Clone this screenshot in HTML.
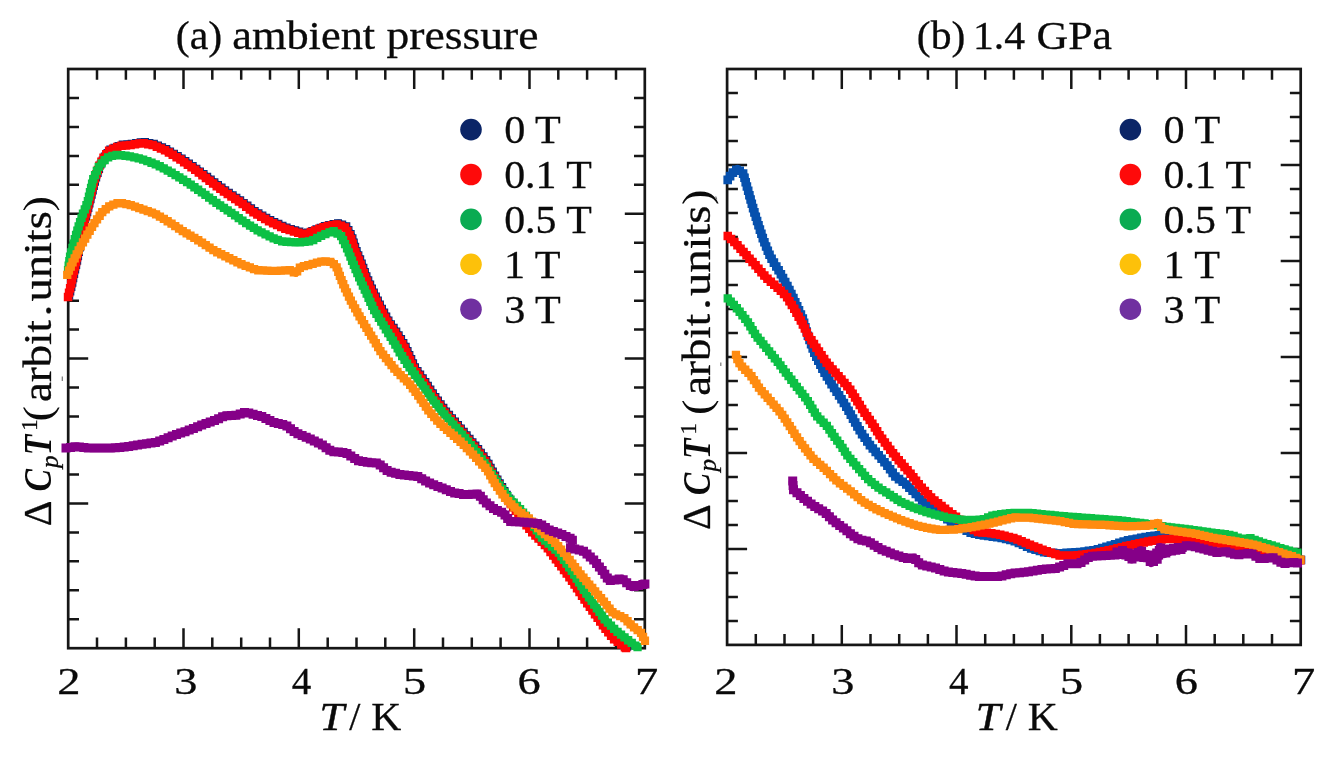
<!DOCTYPE html>
<html lang="en"><head><meta charset="utf-8"><title>Specific heat plots</title>
<style>
html,body{margin:0;padding:0;background:#fff;}
body{width:1337px;height:762px;overflow:hidden;}
svg{display:block;filter:blur(0.55px);}
svg text{font-family:"Liberation Serif","DejaVu Serif",serif;fill:#0a0a0a;}
svg text.b{stroke:#0a0a0a;stroke-width:0.3px;}
svg text.bb{stroke:#0a0a0a;stroke-width:0.5px;}
</style></head><body>
<svg width="1337" height="762" viewBox="0 0 1337 762">
<rect width="1337" height="762" fill="#ffffff"/>
<!-- left panel -->
<rect x="68.2" y="69.0" width="576.6" height="579.2" fill="none" stroke="#161616" stroke-width="2.7"/>
<path d="M97.0 69.0v10.8M97.0 648.2v-10.8M125.9 69.0v10.8M125.9 648.2v-10.8M154.7 69.0v10.8M154.7 648.2v-10.8M183.5 69.0v20.0M183.5 648.2v-20.0M212.3 69.0v10.8M212.3 648.2v-10.8M241.2 69.0v10.8M241.2 648.2v-10.8M270.0 69.0v10.8M270.0 648.2v-10.8M298.8 69.0v20.0M298.8 648.2v-20.0M327.7 69.0v10.8M327.7 648.2v-10.8M356.5 69.0v10.8M356.5 648.2v-10.8M385.3 69.0v10.8M385.3 648.2v-10.8M414.2 69.0v20.0M414.2 648.2v-20.0M443.0 69.0v10.8M443.0 648.2v-10.8M471.8 69.0v10.8M471.8 648.2v-10.8M500.6 69.0v10.8M500.6 648.2v-10.8M529.5 69.0v20.0M529.5 648.2v-20.0M558.3 69.0v10.8M558.3 648.2v-10.8M587.1 69.0v10.8M587.1 648.2v-10.8M616.0 69.0v10.8M616.0 648.2v-10.8M68.2 98.0h10.8M644.8 98.0h-10.8M68.2 126.9h10.8M644.8 126.9h-10.8M68.2 155.9h10.8M644.8 155.9h-10.8M68.2 184.8h10.8M644.8 184.8h-10.8M68.2 213.8h20.0M644.8 213.8h-20.0M68.2 242.8h10.8M644.8 242.8h-10.8M68.2 271.7h10.8M644.8 271.7h-10.8M68.2 300.7h10.8M644.8 300.7h-10.8M68.2 329.6h10.8M644.8 329.6h-10.8M68.2 358.6h20.0M644.8 358.6h-20.0M68.2 387.6h10.8M644.8 387.6h-10.8M68.2 416.5h10.8M644.8 416.5h-10.8M68.2 445.5h10.8M644.8 445.5h-10.8M68.2 474.4h10.8M644.8 474.4h-10.8M68.2 503.4h20.0M644.8 503.4h-20.0M68.2 532.4h10.8M644.8 532.4h-10.8M68.2 561.3h10.8M644.8 561.3h-10.8M68.2 590.3h10.8M644.8 590.3h-10.8M68.2 619.2h10.8M644.8 619.2h-10.8" stroke="#161616" stroke-width="2.5" fill="none"/>
<g>
<polyline points="69.2,295.8 71.7,285.8 74.2,273.8 77.2,260.8 80.2,245.8 83.2,228.8 87.2,212.8 91.2,196.8 95.7,178.8 100.7,164.3 105.2,155.8 110.6,149.3 121.0,144.8 131.5,143.8 143.5,141.8 154.2,143.8 166.2,149.0 181.1,158.0 196.1,168.4 211.0,179.7 226.0,190.9 241.0,200.8 255.9,211.8 270.9,220.3 285.8,227.3 300.8,232.0 305.3,233.5 315.8,229.5 326.9,225.3 338.9,223.1 346.4,226.3 351.7,235.8 356.2,249.8 361.2,261.8 366.7,276.8 374.2,293.2 381.7,308.2 389.2,321.6 396.7,332.1 405.5,346.3 414.7,366.8 426.2,383.2 436.2,398.2 446.2,411.6 458.2,425.1 468.2,437.1 478.2,449.0 487.2,461.0 491.2,468.8 499.2,482.2 508.2,497.1 517.2,509.8 525.2,520.8 532.7,530.3 547.4,545.0 560.0,561.8 572.6,578.6 585.2,597.5 595.7,612.2 606.2,626.9 614.6,637.4 627.2,646.8" fill="none" stroke="#0a2a78" stroke-width="7.2" stroke-linejoin="round"/><path d="M65.2 291.8h8v8h-8zM66.3 287.4h8v8h-8zM67.4 283.1h8v8h-8zM68.4 278.7h8v8h-8zM69.3 274.3h8v8h-8zM70.2 269.9h8v8h-8zM71.2 265.5h8v8h-8zM72.2 261.1h8v8h-8zM73.2 256.7h8v8h-8zM74.1 252.3h8v8h-8zM75.0 247.9h8v8h-8zM75.9 243.5h8v8h-8zM76.7 239.0h8v8h-8zM77.5 234.6h8v8h-8zM78.2 230.2h8v8h-8zM79.0 225.8h8v8h-8zM80.1 221.4h8v8h-8zM81.1 217.0h8v8h-8zM82.2 212.6h8v8h-8zM83.3 208.3h8v8h-8zM84.4 203.9h8v8h-8zM85.5 199.5h8v8h-8zM86.6 195.2h8v8h-8zM87.7 190.8h8v8h-8zM88.8 186.4h8v8h-8zM89.9 182.1h8v8h-8zM91.0 177.7h8v8h-8zM92.2 173.4h8v8h-8zM93.7 169.1h8v8h-8zM95.1 164.9h8v8h-8zM96.6 160.6h8v8h-8zM98.6 156.6h8v8h-8zM100.8 152.6h8v8h-8zM103.5 149.1h8v8h-8zM106.3 145.6h8v8h-8zM110.4 143.7h8v8h-8zM114.5 141.9h8v8h-8zM118.7 140.6h8v8h-8zM123.2 140.2h8v8h-8zM127.7 139.8h8v8h-8zM132.1 139.0h8v8h-8zM136.6 138.3h8v8h-8zM141.0 138.1h8v8h-8zM145.4 138.9h8v8h-8zM149.9 139.7h8v8h-8zM154.0 141.5h8v8h-8zM158.1 143.2h8v8h-8zM162.3 145.0h8v8h-8zM166.1 147.4h8v8h-8zM170.0 149.7h8v8h-8zM173.8 152.0h8v8h-8zM177.7 154.4h8v8h-8zM181.4 156.9h8v8h-8zM185.0 159.5h8v8h-8zM188.7 162.1h8v8h-8zM192.4 164.7h8v8h-8zM196.0 167.4h8v8h-8zM199.6 170.1h8v8h-8zM203.2 172.8h8v8h-8zM206.8 175.5h8v8h-8zM210.4 178.2h8v8h-8zM214.0 180.9h8v8h-8zM217.6 183.6h8v8h-8zM221.2 186.3h8v8h-8zM224.9 188.8h8v8h-8zM228.7 191.3h8v8h-8zM232.4 193.8h8v8h-8zM236.2 196.3h8v8h-8zM239.8 198.9h8v8h-8zM243.5 201.6h8v8h-8zM247.1 204.2h8v8h-8zM250.7 206.9h8v8h-8zM254.5 209.3h8v8h-8zM258.4 211.5h8v8h-8zM262.3 213.7h8v8h-8zM266.3 215.9h8v8h-8zM270.3 217.9h8v8h-8zM274.4 219.8h8v8h-8zM278.5 221.7h8v8h-8zM282.6 223.5h8v8h-8zM286.9 224.9h8v8h-8zM291.2 226.2h8v8h-8zM295.4 227.6h8v8h-8zM299.7 229.0h8v8h-8zM304.0 228.5h8v8h-8zM308.2 226.9h8v8h-8zM312.4 225.3h8v8h-8zM316.6 223.7h8v8h-8zM320.8 222.1h8v8h-8zM325.1 220.9h8v8h-8zM329.5 220.1h8v8h-8zM334.0 219.3h8v8h-8zM338.2 220.5h8v8h-8zM342.3 222.3h8v8h-8zM344.5 226.1h8v8h-8zM346.7 230.1h8v8h-8zM348.5 234.2h8v8h-8zM349.8 238.5h8v8h-8zM351.2 242.8h8v8h-8zM352.7 247.0h8v8h-8zM354.4 251.2h8v8h-8zM356.2 255.3h8v8h-8zM357.8 259.5h8v8h-8zM359.4 263.7h8v8h-8zM360.9 267.9h8v8h-8zM362.5 272.2h8v8h-8zM364.3 276.3h8v8h-8zM366.2 280.4h8v8h-8zM368.0 284.5h8v8h-8zM369.9 288.6h8v8h-8zM371.9 292.6h8v8h-8zM373.9 296.6h8v8h-8zM375.9 300.6h8v8h-8zM378.0 304.7h8v8h-8zM380.2 308.6h8v8h-8zM382.3 312.5h8v8h-8zM384.5 316.4h8v8h-8zM387.0 320.2h8v8h-8zM389.7 323.8h8v8h-8zM392.3 327.5h8v8h-8zM394.7 331.3h8v8h-8zM397.1 335.1h8v8h-8zM399.4 338.9h8v8h-8zM401.7 342.8h8v8h-8zM403.6 346.9h8v8h-8zM405.4 351.0h8v8h-8zM407.3 355.1h8v8h-8zM409.1 359.2h8v8h-8zM411.0 363.3h8v8h-8zM413.6 367.0h8v8h-8zM416.2 370.6h8v8h-8zM418.8 374.3h8v8h-8zM421.4 378.0h8v8h-8zM423.9 381.7h8v8h-8zM426.4 385.5h8v8h-8zM428.9 389.2h8v8h-8zM431.4 393.0h8v8h-8zM434.0 396.6h8v8h-8zM436.7 400.2h8v8h-8zM439.4 403.8h8v8h-8zM442.1 407.4h8v8h-8zM445.1 410.8h8v8h-8zM448.0 414.2h8v8h-8zM451.0 417.5h8v8h-8zM454.0 420.9h8v8h-8zM456.9 424.4h8v8h-8zM459.8 427.8h8v8h-8zM462.7 431.3h8v8h-8zM465.6 434.7h8v8h-8zM468.5 438.2h8v8h-8zM471.4 441.6h8v8h-8zM474.2 445.1h8v8h-8zM476.9 448.7h8v8h-8zM479.6 452.3h8v8h-8zM482.3 455.9h8v8h-8zM484.6 459.7h8v8h-8zM486.7 463.7h8v8h-8zM488.9 467.6h8v8h-8zM491.2 471.5h8v8h-8zM493.5 475.4h8v8h-8zM495.8 479.2h8v8h-8zM498.2 483.1h8v8h-8zM500.5 486.9h8v8h-8zM502.8 490.8h8v8h-8zM505.2 494.6h8v8h-8zM507.8 498.2h8v8h-8zM510.4 501.9h8v8h-8zM513.0 505.6h8v8h-8zM515.7 509.2h8v8h-8zM518.3 512.9h8v8h-8zM521.0 516.5h8v8h-8zM523.8 520.0h8v8h-8zM526.5 523.6h8v8h-8zM529.4 527.0h8v8h-8zM532.6 530.2h8v8h-8zM535.8 533.4h8v8h-8zM539.0 536.6h8v8h-8zM542.2 539.8h8v8h-8zM545.0 543.2h8v8h-8zM547.7 546.8h8v8h-8zM550.4 550.4h8v8h-8zM553.1 554.0h8v8h-8zM555.8 557.6h8v8h-8zM558.5 561.2h8v8h-8zM561.2 564.8h8v8h-8zM563.9 568.4h8v8h-8zM566.6 572.0h8v8h-8zM569.3 575.6h8v8h-8zM571.8 579.4h8v8h-8zM574.3 583.1h8v8h-8zM576.8 586.9h8v8h-8zM579.3 590.6h8v8h-8zM581.8 594.3h8v8h-8zM584.4 598.0h8v8h-8zM587.0 601.7h8v8h-8zM589.6 605.3h8v8h-8zM592.3 609.0h8v8h-8zM594.9 612.6h8v8h-8zM597.5 616.3h8v8h-8zM600.1 620.0h8v8h-8zM602.8 623.6h8v8h-8zM605.6 627.1h8v8h-8zM608.4 630.6h8v8h-8zM611.4 634.0h8v8h-8zM615.0 636.7h8v8h-8zM618.6 639.3h8v8h-8zM622.2 642.0h8v8h-8zM623.2 642.8h8v8h-8z" fill="#0a2a78" />
<polyline points="68.0,297.0 70.5,287.0 73.0,275.0 76.0,262.0 79.0,247.0 82.0,230.0 86.0,214.0 90.0,198.0 94.5,180.0 99.5,165.5 104.0,157.0 109.4,150.5 119.8,146.0 130.3,145.0 142.3,143.0 153.0,145.0 165.0,150.2 179.9,159.2 194.9,169.6 209.8,180.9 224.8,192.1 239.8,202.0 254.7,213.0 269.7,221.5 284.6,228.5 299.6,233.2 304.1,234.7 314.6,230.7 325.7,226.5 337.7,224.3 345.2,227.5 350.5,237.0 355.0,251.0 360.0,263.0 365.5,278.0 373.0,294.4 380.5,309.4 388.0,322.8 395.5,333.3 404.3,347.5 413.5,368.0 425.0,384.4 435.0,399.4 445.0,412.8 457.0,426.3 467.0,438.3 477.0,450.2 486.0,462.2 490.0,470.0 498.0,483.4 507.0,498.3 516.0,511.0 524.0,522.0 531.5,531.5 546.2,546.2 558.8,563.0 571.4,579.8 584.0,598.7 594.5,613.4 605.0,628.1 613.4,638.6 626.0,648.0" fill="none" stroke="#ff0505" stroke-width="7.65" stroke-linejoin="round"/><path d="M63.8 292.8h8.5v8.5h-8.5zM64.8 288.4h8.5v8.5h-8.5zM65.9 284.0h8.5v8.5h-8.5zM66.9 279.6h8.5v8.5h-8.5zM67.8 275.2h8.5v8.5h-8.5zM68.7 270.8h8.5v8.5h-8.5zM69.7 266.4h8.5v8.5h-8.5zM70.8 262.0h8.5v8.5h-8.5zM71.8 257.7h8.5v8.5h-8.5zM72.7 253.2h8.5v8.5h-8.5zM73.5 248.8h8.5v8.5h-8.5zM74.4 244.4h8.5v8.5h-8.5zM75.2 240.0h8.5v8.5h-8.5zM76.0 235.6h8.5v8.5h-8.5zM76.8 231.1h8.5v8.5h-8.5zM77.6 226.7h8.5v8.5h-8.5zM78.6 222.3h8.5v8.5h-8.5zM79.7 218.0h8.5v8.5h-8.5zM80.8 213.6h8.5v8.5h-8.5zM81.9 209.2h8.5v8.5h-8.5zM83.0 204.9h8.5v8.5h-8.5zM84.1 200.5h8.5v8.5h-8.5zM85.2 196.1h8.5v8.5h-8.5zM86.2 191.8h8.5v8.5h-8.5zM87.3 187.4h8.5v8.5h-8.5zM88.4 183.0h8.5v8.5h-8.5zM89.5 178.7h8.5v8.5h-8.5zM90.7 174.3h8.5v8.5h-8.5zM92.2 170.1h8.5v8.5h-8.5zM93.7 165.8h8.5v8.5h-8.5zM95.1 161.6h8.5v8.5h-8.5zM97.2 157.6h8.5v8.5h-8.5zM99.3 153.6h8.5v8.5h-8.5zM102.0 150.0h8.5v8.5h-8.5zM104.9 146.6h8.5v8.5h-8.5zM108.9 144.6h8.5v8.5h-8.5zM113.0 142.8h8.5v8.5h-8.5zM117.3 141.6h8.5v8.5h-8.5zM121.8 141.2h8.5v8.5h-8.5zM126.3 140.7h8.5v8.5h-8.5zM130.7 140.0h8.5v8.5h-8.5zM135.1 139.2h8.5v8.5h-8.5zM139.6 139.0h8.5v8.5h-8.5zM144.0 139.9h8.5v8.5h-8.5zM148.4 140.7h8.5v8.5h-8.5zM152.6 142.4h8.5v8.5h-8.5zM156.7 144.2h8.5v8.5h-8.5zM160.8 146.0h8.5v8.5h-8.5zM164.7 148.3h8.5v8.5h-8.5zM168.5 150.6h8.5v8.5h-8.5zM172.4 153.0h8.5v8.5h-8.5zM176.2 155.3h8.5v8.5h-8.5zM179.9 157.9h8.5v8.5h-8.5zM183.6 160.5h8.5v8.5h-8.5zM187.3 163.0h8.5v8.5h-8.5zM191.0 165.6h8.5v8.5h-8.5zM194.6 168.3h8.5v8.5h-8.5zM198.2 171.0h8.5v8.5h-8.5zM201.7 173.8h8.5v8.5h-8.5zM205.3 176.5h8.5v8.5h-8.5zM208.9 179.2h8.5v8.5h-8.5zM212.5 181.9h8.5v8.5h-8.5zM216.1 184.6h8.5v8.5h-8.5zM219.7 187.3h8.5v8.5h-8.5zM223.5 189.8h8.5v8.5h-8.5zM227.2 192.3h8.5v8.5h-8.5zM231.0 194.7h8.5v8.5h-8.5zM234.7 197.2h8.5v8.5h-8.5zM238.4 199.8h8.5v8.5h-8.5zM242.0 202.5h8.5v8.5h-8.5zM245.6 205.2h8.5v8.5h-8.5zM249.2 207.9h8.5v8.5h-8.5zM253.1 210.2h8.5v8.5h-8.5zM257.0 212.5h8.5v8.5h-8.5zM260.9 214.7h8.5v8.5h-8.5zM264.8 216.9h8.5v8.5h-8.5zM268.9 218.9h8.5v8.5h-8.5zM272.9 220.8h8.5v8.5h-8.5zM277.0 222.7h8.5v8.5h-8.5zM281.1 224.5h8.5v8.5h-8.5zM285.4 225.8h8.5v8.5h-8.5zM289.7 227.2h8.5v8.5h-8.5zM294.0 228.5h8.5v8.5h-8.5zM298.3 229.9h8.5v8.5h-8.5zM302.5 229.4h8.5v8.5h-8.5zM306.7 227.8h8.5v8.5h-8.5zM310.9 226.2h8.5v8.5h-8.5zM315.1 224.6h8.5v8.5h-8.5zM319.3 223.1h8.5v8.5h-8.5zM323.7 221.8h8.5v8.5h-8.5zM328.1 221.0h8.5v8.5h-8.5zM332.5 220.2h8.5v8.5h-8.5zM336.7 221.4h8.5v8.5h-8.5zM340.8 223.2h8.5v8.5h-8.5zM343.1 227.1h8.5v8.5h-8.5zM345.3 231.0h8.5v8.5h-8.5zM347.0 235.1h8.5v8.5h-8.5zM348.4 239.4h8.5v8.5h-8.5zM349.8 243.7h8.5v8.5h-8.5zM351.2 247.9h8.5v8.5h-8.5zM353.0 252.1h8.5v8.5h-8.5zM354.7 256.3h8.5v8.5h-8.5zM356.4 260.4h8.5v8.5h-8.5zM357.9 264.7h8.5v8.5h-8.5zM359.5 268.9h8.5v8.5h-8.5zM361.0 273.1h8.5v8.5h-8.5zM362.8 277.2h8.5v8.5h-8.5zM364.7 281.3h8.5v8.5h-8.5zM366.6 285.4h8.5v8.5h-8.5zM368.5 289.5h8.5v8.5h-8.5zM370.4 293.5h8.5v8.5h-8.5zM372.5 297.6h8.5v8.5h-8.5zM374.5 301.6h8.5v8.5h-8.5zM376.5 305.6h8.5v8.5h-8.5zM378.7 309.5h8.5v8.5h-8.5zM380.9 313.5h8.5v8.5h-8.5zM383.1 317.4h8.5v8.5h-8.5zM385.6 321.1h8.5v8.5h-8.5zM388.2 324.8h8.5v8.5h-8.5zM390.8 328.4h8.5v8.5h-8.5zM393.2 332.2h8.5v8.5h-8.5zM395.6 336.1h8.5v8.5h-8.5zM398.0 339.9h8.5v8.5h-8.5zM400.3 343.8h8.5v8.5h-8.5zM402.1 347.9h8.5v8.5h-8.5zM404.0 352.0h8.5v8.5h-8.5zM405.8 356.1h8.5v8.5h-8.5zM407.6 360.2h8.5v8.5h-8.5zM409.6 364.2h8.5v8.5h-8.5zM412.2 367.9h8.5v8.5h-8.5zM414.8 371.6h8.5v8.5h-8.5zM417.3 375.3h8.5v8.5h-8.5zM419.9 379.0h8.5v8.5h-8.5zM422.4 382.7h8.5v8.5h-8.5zM424.9 386.4h8.5v8.5h-8.5zM427.4 390.2h8.5v8.5h-8.5zM429.9 393.9h8.5v8.5h-8.5zM432.6 397.6h8.5v8.5h-8.5zM435.3 401.2h8.5v8.5h-8.5zM437.9 404.8h8.5v8.5h-8.5zM440.6 408.4h8.5v8.5h-8.5zM443.6 411.8h8.5v8.5h-8.5zM446.6 415.1h8.5v8.5h-8.5zM449.6 418.5h8.5v8.5h-8.5zM452.6 421.9h8.5v8.5h-8.5zM455.5 425.3h8.5v8.5h-8.5zM458.3 428.8h8.5v8.5h-8.5zM461.2 432.2h8.5v8.5h-8.5zM464.1 435.7h8.5v8.5h-8.5zM467.0 439.1h8.5v8.5h-8.5zM469.9 442.6h8.5v8.5h-8.5zM472.8 446.0h8.5v8.5h-8.5zM475.5 449.6h8.5v8.5h-8.5zM478.2 453.2h8.5v8.5h-8.5zM480.9 456.8h8.5v8.5h-8.5zM483.2 460.7h8.5v8.5h-8.5zM485.2 464.7h8.5v8.5h-8.5zM487.4 468.6h8.5v8.5h-8.5zM489.8 472.5h8.5v8.5h-8.5zM492.1 476.3h8.5v8.5h-8.5zM494.4 480.2h8.5v8.5h-8.5zM496.7 484.0h8.5v8.5h-8.5zM499.0 487.9h8.5v8.5h-8.5zM501.4 491.7h8.5v8.5h-8.5zM503.8 495.5h8.5v8.5h-8.5zM506.4 499.2h8.5v8.5h-8.5zM509.0 502.9h8.5v8.5h-8.5zM511.6 506.5h8.5v8.5h-8.5zM514.2 510.2h8.5v8.5h-8.5zM516.9 513.8h8.5v8.5h-8.5zM519.5 517.5h8.5v8.5h-8.5zM522.3 521.0h8.5v8.5h-8.5zM525.1 524.5h8.5v8.5h-8.5zM528.0 528.0h8.5v8.5h-8.5zM531.2 531.2h8.5v8.5h-8.5zM534.3 534.3h8.5v8.5h-8.5zM537.5 537.5h8.5v8.5h-8.5zM540.7 540.7h8.5v8.5h-8.5zM543.6 544.1h8.5v8.5h-8.5zM546.3 547.7h8.5v8.5h-8.5zM549.0 551.3h8.5v8.5h-8.5zM551.7 554.9h8.5v8.5h-8.5zM554.4 558.5h8.5v8.5h-8.5zM557.1 562.1h8.5v8.5h-8.5zM559.8 565.7h8.5v8.5h-8.5zM562.5 569.3h8.5v8.5h-8.5zM565.2 572.9h8.5v8.5h-8.5zM567.8 576.6h8.5v8.5h-8.5zM570.3 580.3h8.5v8.5h-8.5zM572.8 584.1h8.5v8.5h-8.5zM575.3 587.8h8.5v8.5h-8.5zM577.8 591.6h8.5v8.5h-8.5zM580.3 595.3h8.5v8.5h-8.5zM583.0 598.9h8.5v8.5h-8.5zM585.6 602.6h8.5v8.5h-8.5zM588.2 606.3h8.5v8.5h-8.5zM590.8 609.9h8.5v8.5h-8.5zM593.4 613.6h8.5v8.5h-8.5zM596.0 617.3h8.5v8.5h-8.5zM598.7 620.9h8.5v8.5h-8.5zM601.3 624.5h8.5v8.5h-8.5zM604.1 628.1h8.5v8.5h-8.5zM606.9 631.6h8.5v8.5h-8.5zM609.9 634.9h8.5v8.5h-8.5zM613.5 637.6h8.5v8.5h-8.5zM617.1 640.3h8.5v8.5h-8.5zM620.7 643.0h8.5v8.5h-8.5zM621.8 643.8h8.5v8.5h-8.5z" fill="#ff0505" />
<polyline points="68.0,270.0 70.0,257.0 74.0,242.0 78.4,227.0 83.0,213.5 87.4,203.0 92.9,180.0 98.9,166.4 106.4,158.1 115.3,154.7 127.3,155.9 142.3,159.2 157.2,164.9 172.2,173.0 187.2,182.2 202.1,192.5 217.1,203.3 231.0,212.6 246.0,223.0 259.5,231.5 274.9,239.0 282.4,241.5 297.3,242.5 310.8,241.3 322.7,235.0 333.2,231.0 340.7,235.3 347.2,248.5 353.0,263.0 359.4,278.0 367.0,294.4 374.5,310.9 382.0,322.8 389.3,334.8 396.8,346.8 400.0,353.0 409.9,368.0 421.9,384.4 432.4,399.4 442.8,412.8 454.8,426.3 465.3,438.3 474.9,450.2 483.9,462.2 489.0,470.0 498.0,483.4 508.0,497.0 520.0,509.0 531.0,522.0 542.0,537.8 558.8,552.5 573.5,573.5 584.0,590.3 594.5,605.0 605.0,619.7 615.5,630.2 626.0,638.6 634.4,644.9 637.5,647.0" fill="none" stroke="#0cc045" stroke-width="7.47" stroke-linejoin="round"/><path d="M63.9 265.9h8.3v8.3h-8.3zM64.5 261.4h8.3v8.3h-8.3zM65.2 257.0h8.3v8.3h-8.3zM65.9 252.5h8.3v8.3h-8.3zM67.1 248.2h8.3v8.3h-8.3zM68.3 243.8h8.3v8.3h-8.3zM69.4 239.5h8.3v8.3h-8.3zM70.6 235.1h8.3v8.3h-8.3zM71.9 230.8h8.3v8.3h-8.3zM73.2 226.5h8.3v8.3h-8.3zM74.5 222.2h8.3v8.3h-8.3zM75.9 217.9h8.3v8.3h-8.3zM77.4 213.7h8.3v8.3h-8.3zM78.8 209.4h8.3v8.3h-8.3zM80.6 205.3h8.3v8.3h-8.3zM82.3 201.1h8.3v8.3h-8.3zM83.7 196.9h8.3v8.3h-8.3zM84.8 192.5h8.3v8.3h-8.3zM85.8 188.1h8.3v8.3h-8.3zM86.9 183.7h8.3v8.3h-8.3zM87.9 179.4h8.3v8.3h-8.3zM89.1 175.0h8.3v8.3h-8.3zM90.9 170.9h8.3v8.3h-8.3zM92.7 166.8h8.3v8.3h-8.3zM94.6 162.7h8.3v8.3h-8.3zM97.5 159.3h8.3v8.3h-8.3zM100.5 155.9h8.3v8.3h-8.3zM104.0 153.3h8.3v8.3h-8.3zM108.2 151.7h8.3v8.3h-8.3zM112.5 150.7h8.3v8.3h-8.3zM116.9 151.1h8.3v8.3h-8.3zM121.4 151.6h8.3v8.3h-8.3zM125.8 152.3h8.3v8.3h-8.3zM130.2 153.3h8.3v8.3h-8.3zM134.6 154.3h8.3v8.3h-8.3zM139.0 155.4h8.3v8.3h-8.3zM143.2 157.0h8.3v8.3h-8.3zM147.4 158.6h8.3v8.3h-8.3zM151.6 160.2h8.3v8.3h-8.3zM155.6 162.1h8.3v8.3h-8.3zM159.6 164.3h8.3v8.3h-8.3zM163.6 166.4h8.3v8.3h-8.3zM167.5 168.6h8.3v8.3h-8.3zM171.4 170.9h8.3v8.3h-8.3zM175.2 173.2h8.3v8.3h-8.3zM179.0 175.6h8.3v8.3h-8.3zM182.9 177.9h8.3v8.3h-8.3zM186.6 180.5h8.3v8.3h-8.3zM190.3 183.1h8.3v8.3h-8.3zM194.0 185.6h8.3v8.3h-8.3zM197.7 188.2h8.3v8.3h-8.3zM201.3 190.8h8.3v8.3h-8.3zM205.0 193.4h8.3v8.3h-8.3zM208.7 196.1h8.3v8.3h-8.3zM212.3 198.7h8.3v8.3h-8.3zM216.0 201.2h8.3v8.3h-8.3zM219.8 203.7h8.3v8.3h-8.3zM223.5 206.2h8.3v8.3h-8.3zM227.2 208.7h8.3v8.3h-8.3zM230.9 211.3h8.3v8.3h-8.3zM234.6 213.9h8.3v8.3h-8.3zM238.3 216.4h8.3v8.3h-8.3zM242.0 219.0h8.3v8.3h-8.3zM245.9 221.4h8.3v8.3h-8.3zM249.7 223.8h8.3v8.3h-8.3zM253.5 226.2h8.3v8.3h-8.3zM257.4 228.3h8.3v8.3h-8.3zM261.4 230.3h8.3v8.3h-8.3zM265.5 232.3h8.3v8.3h-8.3zM269.5 234.3h8.3v8.3h-8.3zM273.7 235.8h8.3v8.3h-8.3zM278.0 237.3h8.3v8.3h-8.3zM282.5 237.6h8.3v8.3h-8.3zM287.0 237.9h8.3v8.3h-8.3zM291.5 238.2h8.3v8.3h-8.3zM295.9 238.1h8.3v8.3h-8.3zM300.4 237.7h8.3v8.3h-8.3zM304.9 237.3h8.3v8.3h-8.3zM309.1 235.9h8.3v8.3h-8.3zM313.1 233.8h8.3v8.3h-8.3zM317.0 231.7h8.3v8.3h-8.3zM321.2 229.9h8.3v8.3h-8.3zM325.4 228.3h8.3v8.3h-8.3zM329.5 227.1h8.3v8.3h-8.3zM333.4 229.4h8.3v8.3h-8.3zM337.0 232.0h8.3v8.3h-8.3zM338.9 236.0h8.3v8.3h-8.3zM340.9 240.0h8.3v8.3h-8.3zM342.9 244.1h8.3v8.3h-8.3zM344.6 248.2h8.3v8.3h-8.3zM346.3 252.4h8.3v8.3h-8.3zM347.9 256.6h8.3v8.3h-8.3zM349.7 260.8h8.3v8.3h-8.3zM351.4 264.9h8.3v8.3h-8.3zM353.2 269.0h8.3v8.3h-8.3zM355.0 273.2h8.3v8.3h-8.3zM356.8 277.3h8.3v8.3h-8.3zM358.7 281.4h8.3v8.3h-8.3zM360.6 285.4h8.3v8.3h-8.3zM362.5 289.5h8.3v8.3h-8.3zM364.4 293.6h8.3v8.3h-8.3zM366.2 297.7h8.3v8.3h-8.3zM368.1 301.8h8.3v8.3h-8.3zM370.0 305.9h8.3v8.3h-8.3zM372.3 309.8h8.3v8.3h-8.3zM374.7 313.6h8.3v8.3h-8.3zM377.1 317.4h8.3v8.3h-8.3zM379.4 321.2h8.3v8.3h-8.3zM381.7 325.1h8.3v8.3h-8.3zM384.1 328.9h8.3v8.3h-8.3zM386.5 332.7h8.3v8.3h-8.3zM388.8 336.5h8.3v8.3h-8.3zM391.2 340.4h8.3v8.3h-8.3zM393.5 344.3h8.3v8.3h-8.3zM395.5 348.3h8.3v8.3h-8.3zM398.0 352.0h8.3v8.3h-8.3zM400.4 355.8h8.3v8.3h-8.3zM402.9 359.6h8.3v8.3h-8.3zM405.4 363.3h8.3v8.3h-8.3zM408.0 367.0h8.3v8.3h-8.3zM410.7 370.6h8.3v8.3h-8.3zM413.3 374.2h8.3v8.3h-8.3zM416.0 377.9h8.3v8.3h-8.3zM418.6 381.5h8.3v8.3h-8.3zM421.2 385.2h8.3v8.3h-8.3zM423.8 388.9h8.3v8.3h-8.3zM426.4 392.6h8.3v8.3h-8.3zM429.0 396.2h8.3v8.3h-8.3zM431.8 399.8h8.3v8.3h-8.3zM434.5 403.3h8.3v8.3h-8.3zM437.3 406.9h8.3v8.3h-8.3zM440.2 410.3h8.3v8.3h-8.3zM443.1 413.7h8.3v8.3h-8.3zM446.1 417.1h8.3v8.3h-8.3zM449.1 420.4h8.3v8.3h-8.3zM452.1 423.8h8.3v8.3h-8.3zM455.1 427.2h8.3v8.3h-8.3zM458.0 430.6h8.3v8.3h-8.3zM461.0 434.0h8.3v8.3h-8.3zM463.8 437.5h8.3v8.3h-8.3zM466.6 441.0h8.3v8.3h-8.3zM469.5 444.5h8.3v8.3h-8.3zM472.2 448.0h8.3v8.3h-8.3zM474.9 451.6h8.3v8.3h-8.3zM477.6 455.2h8.3v8.3h-8.3zM480.3 458.9h8.3v8.3h-8.3zM482.7 462.6h8.3v8.3h-8.3zM485.2 466.4h8.3v8.3h-8.3zM487.7 470.1h8.3v8.3h-8.3zM490.2 473.9h8.3v8.3h-8.3zM492.7 477.6h8.3v8.3h-8.3zM495.3 481.3h8.3v8.3h-8.3zM498.0 484.9h8.3v8.3h-8.3zM500.7 488.5h8.3v8.3h-8.3zM503.3 492.1h8.3v8.3h-8.3zM506.4 495.4h8.3v8.3h-8.3zM509.6 498.6h8.3v8.3h-8.3zM512.8 501.8h8.3v8.3h-8.3zM515.9 505.0h8.3v8.3h-8.3zM518.9 508.4h8.3v8.3h-8.3zM521.8 511.8h8.3v8.3h-8.3zM524.7 515.3h8.3v8.3h-8.3zM527.5 518.8h8.3v8.3h-8.3zM530.1 522.5h8.3v8.3h-8.3zM532.6 526.2h8.3v8.3h-8.3zM535.2 529.9h8.3v8.3h-8.3zM537.8 533.5h8.3v8.3h-8.3zM541.1 536.5h8.3v8.3h-8.3zM544.5 539.5h8.3v8.3h-8.3zM547.9 542.5h8.3v8.3h-8.3zM551.3 545.4h8.3v8.3h-8.3zM554.7 548.4h8.3v8.3h-8.3zM557.3 552.1h8.3v8.3h-8.3zM559.8 555.8h8.3v8.3h-8.3zM562.4 559.4h8.3v8.3h-8.3zM565.0 563.1h8.3v8.3h-8.3zM567.6 566.8h8.3v8.3h-8.3zM570.1 570.5h8.3v8.3h-8.3zM572.5 574.4h8.3v8.3h-8.3zM574.9 578.2h8.3v8.3h-8.3zM577.3 582.0h8.3v8.3h-8.3zM579.6 585.8h8.3v8.3h-8.3zM582.2 589.5h8.3v8.3h-8.3zM584.8 593.1h8.3v8.3h-8.3zM587.5 596.8h8.3v8.3h-8.3zM590.1 600.5h8.3v8.3h-8.3zM592.7 604.1h8.3v8.3h-8.3zM595.3 607.8h8.3v8.3h-8.3zM597.9 611.5h8.3v8.3h-8.3zM600.5 615.1h8.3v8.3h-8.3zM603.7 618.4h8.3v8.3h-8.3zM606.8 621.5h8.3v8.3h-8.3zM610.0 624.7h8.3v8.3h-8.3zM613.4 627.7h8.3v8.3h-8.3zM616.9 630.5h8.3v8.3h-8.3zM620.4 633.3h8.3v8.3h-8.3zM624.0 636.1h8.3v8.3h-8.3zM627.6 638.8h8.3v8.3h-8.3zM631.2 641.4h8.3v8.3h-8.3zM633.4 642.9h8.3v8.3h-8.3z" fill="#0cc045" />
<polyline points="67.2,274.8 72.4,262.8 79.9,247.9 87.4,234.4 94.9,222.4 102.4,212.0 109.8,206.0 118.8,202.7 129.3,204.5 139.8,208.2 154.7,213.5 169.7,222.4 184.6,232.2 199.6,241.1 214.6,250.9 229.5,258.3 241.5,264.3 256.9,270.2 274.9,271.0 289.8,270.2 295.8,273.2 300.3,267.2 313.8,263.5 322.7,261.2 332.0,262.0 336.5,267.0 339.5,275.0 345.0,288.4 351.5,301.9 359.0,315.3 366.0,327.3 373.5,339.3 380.5,351.2 387.8,360.5 395.0,369.4 409.9,384.4 418.9,396.4 427.9,409.8 438.3,421.8 449.8,432.3 461.5,442.5 474.8,456.5 487.2,469.9 494.9,483.4 505.3,498.3 517.3,510.3 529.3,518.8 539.8,529.8 554.6,542.0 567.2,556.7 579.8,573.5 592.4,588.2 605.0,602.9 613.4,613.4 623.9,617.6 632.3,626.0 640.7,632.3 644.9,640.7" fill="none" stroke="#ff8b10" stroke-width="7.47" stroke-linejoin="round"/><path d="M63.1 270.7h8.3v8.3h-8.3zM64.8 266.5h8.3v8.3h-8.3zM66.6 262.4h8.3v8.3h-8.3zM68.4 258.3h8.3v8.3h-8.3zM70.5 254.3h8.3v8.3h-8.3zM72.5 250.2h8.3v8.3h-8.3zM74.5 246.2h8.3v8.3h-8.3zM76.6 242.2h8.3v8.3h-8.3zM78.8 238.3h8.3v8.3h-8.3zM81.0 234.4h8.3v8.3h-8.3zM83.2 230.4h8.3v8.3h-8.3zM85.5 226.6h8.3v8.3h-8.3zM87.9 222.8h8.3v8.3h-8.3zM90.3 219.0h8.3v8.3h-8.3zM92.9 215.3h8.3v8.3h-8.3zM95.5 211.6h8.3v8.3h-8.3zM98.1 208.0h8.3v8.3h-8.3zM101.6 205.1h8.3v8.3h-8.3zM105.1 202.3h8.3v8.3h-8.3zM109.2 200.5h8.3v8.3h-8.3zM113.4 199.0h8.3v8.3h-8.3zM117.8 199.1h8.3v8.3h-8.3zM122.3 199.9h8.3v8.3h-8.3zM126.6 200.9h8.3v8.3h-8.3zM130.9 202.4h8.3v8.3h-8.3zM135.1 203.9h8.3v8.3h-8.3zM139.3 205.4h8.3v8.3h-8.3zM143.6 206.9h8.3v8.3h-8.3zM147.8 208.4h8.3v8.3h-8.3zM151.9 210.2h8.3v8.3h-8.3zM155.8 212.5h8.3v8.3h-8.3zM159.7 214.8h8.3v8.3h-8.3zM163.5 217.1h8.3v8.3h-8.3zM167.4 219.4h8.3v8.3h-8.3zM171.1 221.9h8.3v8.3h-8.3zM174.9 224.4h8.3v8.3h-8.3zM178.6 226.9h8.3v8.3h-8.3zM182.5 229.2h8.3v8.3h-8.3zM186.3 231.5h8.3v8.3h-8.3zM190.2 233.8h8.3v8.3h-8.3zM194.1 236.1h8.3v8.3h-8.3zM197.9 238.5h8.3v8.3h-8.3zM201.6 241.0h8.3v8.3h-8.3zM205.4 243.5h8.3v8.3h-8.3zM209.2 245.9h8.3v8.3h-8.3zM213.1 248.1h8.3v8.3h-8.3zM217.1 250.1h8.3v8.3h-8.3zM221.2 252.1h8.3v8.3h-8.3zM225.2 254.1h8.3v8.3h-8.3zM229.2 256.1h8.3v8.3h-8.3zM233.3 258.1h8.3v8.3h-8.3zM237.3 260.1h8.3v8.3h-8.3zM241.5 261.7h8.3v8.3h-8.3zM245.7 263.3h8.3v8.3h-8.3zM249.9 265.0h8.3v8.3h-8.3zM254.2 266.1h8.3v8.3h-8.3zM258.7 266.3h8.3v8.3h-8.3zM263.2 266.5h8.3v8.3h-8.3zM267.7 266.7h8.3v8.3h-8.3zM272.2 266.8h8.3v8.3h-8.3zM276.7 266.5h8.3v8.3h-8.3zM281.1 266.3h8.3v8.3h-8.3zM285.6 266.1h8.3v8.3h-8.3zM289.7 268.1h8.3v8.3h-8.3zM293.0 267.2h8.3v8.3h-8.3zM295.7 263.6h8.3v8.3h-8.3zM299.8 262.0h8.3v8.3h-8.3zM304.1 260.9h8.3v8.3h-8.3zM308.5 259.7h8.3v8.3h-8.3zM312.8 258.5h8.3v8.3h-8.3zM317.2 257.4h8.3v8.3h-8.3zM321.6 257.3h8.3v8.3h-8.3zM326.1 257.7h8.3v8.3h-8.3zM329.7 259.9h8.3v8.3h-8.3zM332.5 263.3h8.3v8.3h-8.3zM334.1 267.6h8.3v8.3h-8.3zM335.7 271.8h8.3v8.3h-8.3zM337.4 275.9h8.3v8.3h-8.3zM339.1 280.1h8.3v8.3h-8.3zM340.9 284.3h8.3v8.3h-8.3zM342.8 288.3h8.3v8.3h-8.3zM344.8 292.4h8.3v8.3h-8.3zM346.7 296.4h8.3v8.3h-8.3zM348.8 300.4h8.3v8.3h-8.3zM351.0 304.3h8.3v8.3h-8.3zM353.2 308.2h8.3v8.3h-8.3zM355.4 312.2h8.3v8.3h-8.3zM357.7 316.0h8.3v8.3h-8.3zM360.0 319.9h8.3v8.3h-8.3zM362.3 323.8h8.3v8.3h-8.3zM364.6 327.6h8.3v8.3h-8.3zM367.0 331.4h8.3v8.3h-8.3zM369.4 335.3h8.3v8.3h-8.3zM371.7 339.1h8.3v8.3h-8.3zM374.0 343.0h8.3v8.3h-8.3zM376.3 346.9h8.3v8.3h-8.3zM379.0 350.4h8.3v8.3h-8.3zM381.8 354.0h8.3v8.3h-8.3zM384.6 357.5h8.3v8.3h-8.3zM387.4 361.0h8.3v8.3h-8.3zM390.2 364.5h8.3v8.3h-8.3zM393.3 367.8h8.3v8.3h-8.3zM396.5 371.0h8.3v8.3h-8.3zM399.7 374.1h8.3v8.3h-8.3zM402.9 377.3h8.3v8.3h-8.3zM406.0 380.6h8.3v8.3h-8.3zM408.7 384.2h8.3v8.3h-8.3zM411.4 387.8h8.3v8.3h-8.3zM414.1 391.4h8.3v8.3h-8.3zM416.6 395.1h8.3v8.3h-8.3zM419.2 398.8h8.3v8.3h-8.3zM421.7 402.5h8.3v8.3h-8.3zM424.2 406.2h8.3v8.3h-8.3zM427.2 409.6h8.3v8.3h-8.3zM430.1 413.0h8.3v8.3h-8.3zM433.1 416.4h8.3v8.3h-8.3zM436.3 419.6h8.3v8.3h-8.3zM439.6 422.6h8.3v8.3h-8.3zM442.9 425.7h8.3v8.3h-8.3zM446.3 428.7h8.3v8.3h-8.3zM449.7 431.6h8.3v8.3h-8.3zM453.0 434.6h8.3v8.3h-8.3zM456.4 437.6h8.3v8.3h-8.3zM459.6 440.7h8.3v8.3h-8.3zM462.7 444.0h8.3v8.3h-8.3zM465.8 447.3h8.3v8.3h-8.3zM468.9 450.5h8.3v8.3h-8.3zM472.0 453.8h8.3v8.3h-8.3zM475.0 457.1h8.3v8.3h-8.3zM478.1 460.4h8.3v8.3h-8.3zM481.2 463.7h8.3v8.3h-8.3zM483.9 467.2h8.3v8.3h-8.3zM486.1 471.2h8.3v8.3h-8.3zM488.4 475.1h8.3v8.3h-8.3zM490.6 479.0h8.3v8.3h-8.3zM493.1 482.7h8.3v8.3h-8.3zM495.7 486.4h8.3v8.3h-8.3zM498.3 490.1h8.3v8.3h-8.3zM500.9 493.7h8.3v8.3h-8.3zM504.0 497.0h8.3v8.3h-8.3zM507.2 500.2h8.3v8.3h-8.3zM510.3 503.3h8.3v8.3h-8.3zM513.6 506.5h8.3v8.3h-8.3zM517.3 509.1h8.3v8.3h-8.3zM520.9 511.7h8.3v8.3h-8.3zM524.6 514.3h8.3v8.3h-8.3zM527.8 517.4h8.3v8.3h-8.3zM530.9 520.7h8.3v8.3h-8.3zM534.0 523.9h8.3v8.3h-8.3zM537.3 527.0h8.3v8.3h-8.3zM540.8 529.9h8.3v8.3h-8.3zM544.2 532.7h8.3v8.3h-8.3zM547.7 535.6h8.3v8.3h-8.3zM551.1 538.6h8.3v8.3h-8.3zM554.0 542.0h8.3v8.3h-8.3zM556.9 545.4h8.3v8.3h-8.3zM559.8 548.8h8.3v8.3h-8.3zM562.8 552.2h8.3v8.3h-8.3zM565.5 555.8h8.3v8.3h-8.3zM568.2 559.4h8.3v8.3h-8.3zM570.9 563.0h8.3v8.3h-8.3zM573.6 566.6h8.3v8.3h-8.3zM576.4 570.2h8.3v8.3h-8.3zM579.3 573.6h8.3v8.3h-8.3zM582.2 577.0h8.3v8.3h-8.3zM585.1 580.4h8.3v8.3h-8.3zM588.1 583.8h8.3v8.3h-8.3zM591.0 587.3h8.3v8.3h-8.3zM593.9 590.7h8.3v8.3h-8.3zM596.9 594.1h8.3v8.3h-8.3zM599.8 597.5h8.3v8.3h-8.3zM602.6 601.0h8.3v8.3h-8.3zM605.4 604.5h8.3v8.3h-8.3zM608.3 608.0h8.3v8.3h-8.3zM612.0 610.3h8.3v8.3h-8.3zM616.1 612.0h8.3v8.3h-8.3zM620.2 613.9h8.3v8.3h-8.3zM623.4 617.1h8.3v8.3h-8.3zM626.5 620.2h8.3v8.3h-8.3zM629.9 623.2h8.3v8.3h-8.3zM633.5 625.9h8.3v8.3h-8.3zM636.9 628.8h8.3v8.3h-8.3zM638.9 632.8h8.3v8.3h-8.3zM640.8 636.6h8.3v8.3h-8.3z" fill="#ff8b10" />
<polyline points="66.0,448.1 76.5,446.6 89.9,448.1 112.4,448.1 127.3,446.6 142.3,444.3 157.2,442.1 172.2,436.1 187.2,430.9 202.1,424.9 217.1,419.6 224.5,415.9 236.5,415.2 245.5,412.2 254.5,414.7 261.4,416.3 272.9,422.1 286.1,425.4 295.9,432.8 309.1,438.5 322.3,445.1 332.1,451.7 345.3,452.5 358.5,460.8 368.4,462.4 378.2,463.2 388.1,471.5 401.3,474.7 417.7,476.4 430.9,483.8 444.0,488.7 453.9,492.8 465.0,494.6 478.4,493.9 484.4,501.3 494.9,509.6 503.9,513.3 509.8,521.5 524.8,522.3 539.8,523.8 548.7,529.8 559.2,533.5 569.7,538.0 572.4,540.2" fill="none" stroke="#850088" stroke-width="8.1" stroke-linejoin="round"/><path d="M61.5 443.6h9v9h-9zM66.0 443.0h9v9h-9zM70.4 442.3h9v9h-9zM74.9 442.4h9v9h-9zM79.3 442.9h9v9h-9zM83.8 443.4h9v9h-9zM88.3 443.6h9v9h-9zM92.8 443.6h9v9h-9zM97.3 443.6h9v9h-9zM101.8 443.6h9v9h-9zM106.3 443.6h9v9h-9zM110.8 443.3h9v9h-9zM115.3 442.9h9v9h-9zM119.7 442.4h9v9h-9zM124.2 441.9h9v9h-9zM128.7 441.2h9v9h-9zM133.1 440.5h9v9h-9zM137.6 439.8h9v9h-9zM142.0 439.2h9v9h-9zM146.5 438.5h9v9h-9zM150.9 437.9h9v9h-9zM155.2 436.6h9v9h-9zM159.4 434.9h9v9h-9zM163.6 433.3h9v9h-9zM167.7 431.6h9v9h-9zM172.0 430.1h9v9h-9zM176.2 428.6h9v9h-9zM180.5 427.2h9v9h-9zM184.7 425.6h9v9h-9zM188.9 423.9h9v9h-9zM193.1 422.2h9v9h-9zM197.2 420.5h9v9h-9zM201.5 419.0h9v9h-9zM205.7 417.5h9v9h-9zM210.0 416.0h9v9h-9zM214.1 414.3h9v9h-9zM218.1 412.3h9v9h-9zM222.4 411.3h9v9h-9zM226.9 411.0h9v9h-9zM231.4 410.7h9v9h-9zM235.7 409.5h9v9h-9zM240.0 408.0h9v9h-9zM244.3 408.6h9v9h-9zM248.6 409.8h9v9h-9zM253.0 410.9h9v9h-9zM257.3 412.0h9v9h-9zM261.4 414.0h9v9h-9zM265.4 416.1h9v9h-9zM269.5 417.9h9v9h-9zM273.8 419.0h9v9h-9zM278.2 420.1h9v9h-9zM282.4 421.5h9v9h-9zM286.0 424.2h9v9h-9zM289.6 426.9h9v9h-9zM293.4 429.2h9v9h-9zM297.6 431.0h9v9h-9zM301.7 432.7h9v9h-9zM305.8 434.6h9v9h-9zM309.8 436.6h9v9h-9zM313.9 438.6h9v9h-9zM317.9 440.6h9v9h-9zM321.6 443.2h9v9h-9zM325.3 445.7h9v9h-9zM329.4 447.3h9v9h-9zM333.9 447.6h9v9h-9zM338.4 447.9h9v9h-9zM342.5 449.1h9v9h-9zM346.3 451.5h9v9h-9zM350.2 453.9h9v9h-9zM354.0 456.3h9v9h-9zM358.4 457.0h9v9h-9zM362.8 457.7h9v9h-9zM367.3 458.2h9v9h-9zM371.8 458.5h9v9h-9zM375.7 460.4h9v9h-9zM379.1 463.3h9v9h-9zM382.6 466.1h9v9h-9zM386.7 467.7h9v9h-9zM391.1 468.8h9v9h-9zM395.4 469.9h9v9h-9zM399.9 470.5h9v9h-9zM404.4 471.0h9v9h-9zM408.8 471.4h9v9h-9zM413.3 472.0h9v9h-9zM417.2 474.2h9v9h-9zM421.1 476.4h9v9h-9zM425.1 478.6h9v9h-9zM429.2 480.3h9v9h-9zM433.4 481.9h9v9h-9zM437.6 483.5h9v9h-9zM441.8 485.2h9v9h-9zM446.0 486.9h9v9h-9zM450.2 488.4h9v9h-9zM454.6 489.1h9v9h-9zM459.0 489.9h9v9h-9zM463.5 489.9h9v9h-9zM468.0 489.7h9v9h-9zM472.5 489.5h9v9h-9zM475.9 491.8h9v9h-9zM478.7 495.3h9v9h-9zM481.9 498.4h9v9h-9zM485.5 501.2h9v9h-9zM489.0 504.0h9v9h-9zM492.9 506.1h9v9h-9zM497.1 507.8h9v9h-9zM500.5 510.4h9v9h-9zM503.2 514.0h9v9h-9zM506.2 517.0h9v9h-9zM510.7 517.3h9v9h-9zM515.1 517.5h9v9h-9zM519.6 517.8h9v9h-9zM524.1 518.2h9v9h-9zM528.6 518.6h9v9h-9zM533.1 519.1h9v9h-9zM537.2 520.6h9v9h-9zM540.9 523.1h9v9h-9zM544.7 525.5h9v9h-9zM548.9 527.0h9v9h-9zM553.2 528.5h9v9h-9zM557.4 530.1h9v9h-9zM561.5 531.9h9v9h-9zM565.6 533.8h9v9h-9zM567.9 535.7h9v9h-9z" fill="#850088" />
<polyline points="570.5,547.8 584.0,551.4 594.5,560.9 602.9,571.4 609.2,580.8 621.8,578.7 632.3,587.1 644.9,584.0" fill="none" stroke="#850088" stroke-width="8.1" stroke-linejoin="round"/><path d="M566.0 543.3h9v9h-9zM570.3 544.5h9v9h-9zM574.7 545.6h9v9h-9zM579.0 546.8h9v9h-9zM582.5 549.6h9v9h-9zM585.8 552.6h9v9h-9zM589.2 555.6h9v9h-9zM592.1 559.0h9v9h-9zM594.9 562.5h9v9h-9zM597.7 566.1h9v9h-9zM600.3 569.7h9v9h-9zM602.8 573.5h9v9h-9zM605.8 576.1h9v9h-9zM610.2 575.4h9v9h-9zM614.7 574.6h9v9h-9zM618.7 575.3h9v9h-9zM622.2 578.2h9v9h-9zM625.8 581.0h9v9h-9zM629.6 582.1h9v9h-9zM634.0 581.1h9v9h-9zM638.4 580.0h9v9h-9zM640.4 579.5h9v9h-9z" fill="#850088" />
</g>
<text class="b" x="175.8" y="49.2" font-size="40" textLength="46.5" lengthAdjust="spacingAndGlyphs">(a)</text><text class="b" x="232.2" y="49.2" font-size="40" textLength="143" lengthAdjust="spacingAndGlyphs">ambient</text><text class="b" x="386.4" y="49.2" font-size="40" textLength="152" lengthAdjust="spacingAndGlyphs">pressure</text>
<circle cx="471.0" cy="129.6" r="10.8" fill="#0b2567"/>
<text class="b" x="504.2" y="143.2" font-size="40" textLength="56.6" lengthAdjust="spacingAndGlyphs">0 T</text>
<circle cx="471.0" cy="174.5" r="10.8" fill="#fe0a0a"/>
<text class="b" x="504.2" y="188.1" font-size="40" textLength="87.6" lengthAdjust="spacingAndGlyphs">0.1 T</text>
<circle cx="471.0" cy="219.4" r="10.8" fill="#0aab52"/>
<text class="b" x="504.2" y="233.0" font-size="40" textLength="87.6" lengthAdjust="spacingAndGlyphs">0.5 T</text>
<circle cx="471.0" cy="264.3" r="10.8" fill="#fdc10a"/>
<text class="b" x="504.0" y="277.9" font-size="40" textLength="56.6" lengthAdjust="spacingAndGlyphs">1 T</text>
<circle cx="471.0" cy="309.2" r="10.8" fill="#7030a0"/>
<text class="b" x="504.2" y="322.8" font-size="40" textLength="56.6" lengthAdjust="spacingAndGlyphs">3 T</text>
<g transform="translate(51.0,524.4) rotate(-90)">
<text class="b" x="-1.9" y="0" font-size="40">Δ</text>
<text x="32.9" y="0" font-size="40" font-style="italic" font-weight="bold" textLength="22.5" lengthAdjust="spacingAndGlyphs">C</text>
<text class="b" x="56.5" y="6.5" font-size="25" font-style="italic">p</text>
<text x="69.2" y="0" font-size="40" font-style="italic" font-weight="bold" textLength="20.5" lengthAdjust="spacingAndGlyphs">T</text>
<text class="b" x="93.6" y="-14" font-size="23">1</text>
<text x="103.0" y="0" font-size="40" textLength="15.5" lengthAdjust="spacingAndGlyphs">(</text>
<text class="b" x="122.3" y="0" font-size="40" textLength="82" lengthAdjust="spacingAndGlyphs">arbit</text>
<text class="b" x="208.0" y="0" font-size="40" textLength="12" lengthAdjust="spacingAndGlyphs">.</text>
<text class="b" x="222.8" y="0" font-size="40" textLength="90.5" lengthAdjust="spacingAndGlyphs">units</text>
<text x="313.0" y="0" font-size="40" textLength="15.5" lengthAdjust="spacingAndGlyphs">)</text>
</g>
<text x="68.9" y="694.3" class="b" font-size="38.5" text-anchor="middle" textLength="23.2" lengthAdjust="spacingAndGlyphs">2</text>
<text x="185.8" y="694.3" class="b" font-size="38.5" text-anchor="middle" textLength="23.2" lengthAdjust="spacingAndGlyphs">3</text>
<text x="301.5" y="694.3" class="b" font-size="38.5" text-anchor="middle" textLength="19.5" lengthAdjust="spacingAndGlyphs">4</text>
<text x="414.6" y="694.3" class="b" font-size="38.5" text-anchor="middle" textLength="23.2" lengthAdjust="spacingAndGlyphs">5</text>
<text x="529.2" y="694.3" class="b" font-size="38.5" text-anchor="middle" textLength="23.2" lengthAdjust="spacingAndGlyphs">6</text>
<text x="646.6" y="694.3" class="b" font-size="38.5" text-anchor="middle" textLength="23.2" lengthAdjust="spacingAndGlyphs">7</text>
<text class="bb" x="319.4" y="730.2" font-size="40.5" font-style="italic" textLength="24.6" lengthAdjust="spacingAndGlyphs">T</text><text class="b" x="349.3" y="730.2" font-size="40">/</text><text class="b" x="371.3" y="730.2" font-size="40" textLength="30" lengthAdjust="spacingAndGlyphs">K</text>
<!-- right panel -->
<rect x="727.1" y="69.0" width="573.6" height="575.9" fill="none" stroke="#161616" stroke-width="2.7"/>
<path d="M755.8 69.0v10.8M755.8 644.9v-10.8M784.5 69.0v10.8M784.5 644.9v-10.8M813.1 69.0v10.8M813.1 644.9v-10.8M841.8 69.0v20.0M841.8 644.9v-20.0M870.5 69.0v10.8M870.5 644.9v-10.8M899.2 69.0v10.8M899.2 644.9v-10.8M927.9 69.0v10.8M927.9 644.9v-10.8M956.5 69.0v20.0M956.5 644.9v-20.0M985.2 69.0v10.8M985.2 644.9v-10.8M1013.9 69.0v10.8M1013.9 644.9v-10.8M1042.6 69.0v10.8M1042.6 644.9v-10.8M1071.3 69.0v20.0M1071.3 644.9v-20.0M1099.9 69.0v10.8M1099.9 644.9v-10.8M1128.6 69.0v10.8M1128.6 644.9v-10.8M1157.3 69.0v10.8M1157.3 644.9v-10.8M1186.0 69.0v20.0M1186.0 644.9v-20.0M1214.7 69.0v10.8M1214.7 644.9v-10.8M1243.3 69.0v10.8M1243.3 644.9v-10.8M1272.0 69.0v10.8M1272.0 644.9v-10.8M727.1 93.0h10.8M1300.7 93.0h-10.8M727.1 117.0h10.8M1300.7 117.0h-10.8M727.1 141.0h10.8M1300.7 141.0h-10.8M727.1 165.0h20.0M1300.7 165.0h-20.0M727.1 189.0h10.8M1300.7 189.0h-10.8M727.1 213.0h10.8M1300.7 213.0h-10.8M727.1 237.0h10.8M1300.7 237.0h-10.8M727.1 261.0h20.0M1300.7 261.0h-20.0M727.1 285.0h10.8M1300.7 285.0h-10.8M727.1 309.0h10.8M1300.7 309.0h-10.8M727.1 333.0h10.8M1300.7 333.0h-10.8M727.1 356.9h20.0M1300.7 356.9h-20.0M727.1 380.9h10.8M1300.7 380.9h-10.8M727.1 404.9h10.8M1300.7 404.9h-10.8M727.1 428.9h10.8M1300.7 428.9h-10.8M727.1 452.9h20.0M1300.7 452.9h-20.0M727.1 476.9h10.8M1300.7 476.9h-10.8M727.1 500.9h10.8M1300.7 500.9h-10.8M727.1 524.9h10.8M1300.7 524.9h-10.8M727.1 548.9h20.0M1300.7 548.9h-20.0M727.1 572.9h10.8M1300.7 572.9h-10.8M727.1 596.9h10.8M1300.7 596.9h-10.8M727.1 620.9h10.8M1300.7 620.9h-10.8" stroke="#161616" stroke-width="2.5" fill="none"/>
<g>
<polyline points="727.7,179.9 731.5,173.9 737.4,168.7 743.4,173.9 747.2,187.4 752.2,205.3 757.8,223.3 763.6,240.5 770.2,256.5 779.3,271.4 786.8,284.9 792.8,296.8 803.0,319.0 808.0,336.0 814.0,352.0 822.7,369.4 831.7,384.4 840.7,397.8 848.1,409.8 855.6,423.3 862.0,434.0 869.8,445.0 878.7,455.4 887.7,465.9 895.2,476.4 905.7,483.9 914.6,492.8 923.6,501.8 932.6,507.8 952.0,522.7 971.5,533.2 984.6,535.5 999.6,537.5 1014.6,541.0 1030.0,548.0 1045.0,552.5 1059.9,553.3 1082.4,551.8 1097.3,549.6 1112.3,545.1 1127.2,540.6 1142.2,537.6 1157.2,535.3 1172.1,535.3 1190.0,537.0 1210.0,541.0 1230.0,544.0 1260.0,550.0 1301.0,560.0" fill="none" stroke="#0650ad" stroke-width="7.74" stroke-linejoin="round"/><path d="M723.4 175.6h8.6v8.6h-8.6zM725.8 171.8h8.6v8.6h-8.6zM728.6 168.3h8.6v8.6h-8.6zM732.0 165.4h8.6v8.6h-8.6zM735.4 166.4h8.6v8.6h-8.6zM738.8 169.3h8.6v8.6h-8.6zM740.2 173.5h8.6v8.6h-8.6zM741.4 177.9h8.6v8.6h-8.6zM742.6 182.2h8.6v8.6h-8.6zM743.9 186.5h8.6v8.6h-8.6zM745.1 190.9h8.6v8.6h-8.6zM746.3 195.2h8.6v8.6h-8.6zM747.5 199.5h8.6v8.6h-8.6zM748.8 203.8h8.6v8.6h-8.6zM750.1 208.1h8.6v8.6h-8.6zM751.5 212.4h8.6v8.6h-8.6zM752.8 216.7h8.6v8.6h-8.6zM754.2 221.0h8.6v8.6h-8.6zM755.6 225.3h8.6v8.6h-8.6zM757.1 229.5h8.6v8.6h-8.6zM758.5 233.8h8.6v8.6h-8.6zM760.1 238.0h8.6v8.6h-8.6zM761.8 242.2h8.6v8.6h-8.6zM763.5 246.4h8.6v8.6h-8.6zM765.2 250.5h8.6v8.6h-8.6zM767.3 254.5h8.6v8.6h-8.6zM769.6 258.3h8.6v8.6h-8.6zM772.0 262.2h8.6v8.6h-8.6zM774.3 266.0h8.6v8.6h-8.6zM776.6 269.9h8.6v8.6h-8.6zM778.7 273.8h8.6v8.6h-8.6zM780.9 277.8h8.6v8.6h-8.6zM783.1 281.7h8.6v8.6h-8.6zM785.1 285.8h8.6v8.6h-8.6zM787.1 289.8h8.6v8.6h-8.6zM789.1 293.8h8.6v8.6h-8.6zM791.0 297.9h8.6v8.6h-8.6zM792.9 302.0h8.6v8.6h-8.6zM794.7 306.1h8.6v8.6h-8.6zM796.6 310.2h8.6v8.6h-8.6zM798.5 314.3h8.6v8.6h-8.6zM799.8 318.5h8.6v8.6h-8.6zM801.1 322.9h8.6v8.6h-8.6zM802.4 327.2h8.6v8.6h-8.6zM803.6 331.5h8.6v8.6h-8.6zM805.2 335.7h8.6v8.6h-8.6zM806.8 339.9h8.6v8.6h-8.6zM808.4 344.1h8.6v8.6h-8.6zM810.0 348.3h8.6v8.6h-8.6zM812.0 352.4h8.6v8.6h-8.6zM814.0 356.4h8.6v8.6h-8.6zM816.1 360.4h8.6v8.6h-8.6zM818.1 364.4h8.6v8.6h-8.6zM820.3 368.3h8.6v8.6h-8.6zM822.6 372.2h8.6v8.6h-8.6zM825.0 376.0h8.6v8.6h-8.6zM827.3 379.9h8.6v8.6h-8.6zM829.8 383.6h8.6v8.6h-8.6zM832.3 387.4h8.6v8.6h-8.6zM834.8 391.1h8.6v8.6h-8.6zM837.2 394.9h8.6v8.6h-8.6zM839.6 398.7h8.6v8.6h-8.6zM842.0 402.5h8.6v8.6h-8.6zM844.3 406.4h8.6v8.6h-8.6zM846.5 410.3h8.6v8.6h-8.6zM848.7 414.3h8.6v8.6h-8.6zM850.9 418.2h8.6v8.6h-8.6zM853.1 422.1h8.6v8.6h-8.6zM855.4 425.9h8.6v8.6h-8.6zM857.8 429.8h8.6v8.6h-8.6zM860.4 433.5h8.6v8.6h-8.6zM863.0 437.1h8.6v8.6h-8.6zM865.6 440.8h8.6v8.6h-8.6zM868.5 444.2h8.6v8.6h-8.6zM871.4 447.6h8.6v8.6h-8.6zM874.4 451.0h8.6v8.6h-8.6zM877.3 454.5h8.6v8.6h-8.6zM880.2 457.9h8.6v8.6h-8.6zM883.1 461.3h8.6v8.6h-8.6zM885.8 464.9h8.6v8.6h-8.6zM888.4 468.6h8.6v8.6h-8.6zM891.1 472.2h8.6v8.6h-8.6zM894.7 474.8h8.6v8.6h-8.6zM898.4 477.4h8.6v8.6h-8.6zM902.0 480.2h8.6v8.6h-8.6zM905.1 483.3h8.6v8.6h-8.6zM908.3 486.5h8.6v8.6h-8.6zM911.5 489.7h8.6v8.6h-8.6zM914.7 492.9h8.6v8.6h-8.6zM917.9 496.1h8.6v8.6h-8.6zM921.4 498.9h8.6v8.6h-8.6zM925.1 501.4h8.6v8.6h-8.6zM928.8 503.9h8.6v8.6h-8.6zM932.4 506.6h8.6v8.6h-8.6zM936.0 509.4h8.6v8.6h-8.6zM939.5 512.1h8.6v8.6h-8.6zM943.1 514.9h8.6v8.6h-8.6zM946.7 517.6h8.6v8.6h-8.6zM950.5 519.9h8.6v8.6h-8.6zM954.5 522.1h8.6v8.6h-8.6zM958.4 524.2h8.6v8.6h-8.6zM962.4 526.3h8.6v8.6h-8.6zM966.4 528.5h8.6v8.6h-8.6zM970.7 529.5h8.6v8.6h-8.6zM975.1 530.3h8.6v8.6h-8.6zM979.6 531.1h8.6v8.6h-8.6zM984.0 531.7h8.6v8.6h-8.6zM988.5 532.3h8.6v8.6h-8.6zM992.9 532.9h8.6v8.6h-8.6zM997.4 533.7h8.6v8.6h-8.6zM1001.8 534.7h8.6v8.6h-8.6zM1006.1 535.7h8.6v8.6h-8.6zM1010.5 536.8h8.6v8.6h-8.6zM1014.6 538.7h8.6v8.6h-8.6zM1018.7 540.5h8.6v8.6h-8.6zM1022.8 542.4h8.6v8.6h-8.6zM1026.9 544.1h8.6v8.6h-8.6zM1031.3 545.4h8.6v8.6h-8.6zM1035.6 546.7h8.6v8.6h-8.6zM1039.9 548.0h8.6v8.6h-8.6zM1044.3 548.4h8.6v8.6h-8.6zM1048.8 548.6h8.6v8.6h-8.6zM1053.3 548.9h8.6v8.6h-8.6zM1057.8 548.9h8.6v8.6h-8.6zM1062.3 548.6h8.6v8.6h-8.6zM1066.8 548.3h8.6v8.6h-8.6zM1071.3 548.0h8.6v8.6h-8.6zM1075.8 547.7h8.6v8.6h-8.6zM1080.2 547.2h8.6v8.6h-8.6zM1084.7 546.5h8.6v8.6h-8.6zM1089.2 545.9h8.6v8.6h-8.6zM1093.6 545.1h8.6v8.6h-8.6zM1097.9 543.8h8.6v8.6h-8.6zM1102.2 542.5h8.6v8.6h-8.6zM1106.5 541.2h8.6v8.6h-8.6zM1110.8 539.9h8.6v8.6h-8.6zM1115.1 538.6h8.6v8.6h-8.6zM1119.4 537.3h8.6v8.6h-8.6zM1123.8 536.1h8.6v8.6h-8.6zM1128.2 535.2h8.6v8.6h-8.6zM1132.6 534.4h8.6v8.6h-8.6zM1137.0 533.5h8.6v8.6h-8.6zM1141.4 532.8h8.6v8.6h-8.6zM1145.9 532.1h8.6v8.6h-8.6zM1150.3 531.4h8.6v8.6h-8.6zM1154.8 531.0h8.6v8.6h-8.6zM1159.3 531.0h8.6v8.6h-8.6zM1163.8 531.0h8.6v8.6h-8.6zM1168.3 531.0h8.6v8.6h-8.6zM1172.8 531.5h8.6v8.6h-8.6zM1177.3 531.9h8.6v8.6h-8.6zM1181.8 532.3h8.6v8.6h-8.6zM1186.2 532.8h8.6v8.6h-8.6zM1190.6 533.7h8.6v8.6h-8.6zM1195.0 534.6h8.6v8.6h-8.6zM1199.5 535.5h8.6v8.6h-8.6zM1203.9 536.3h8.6v8.6h-8.6zM1208.3 537.1h8.6v8.6h-8.6zM1212.8 537.8h8.6v8.6h-8.6zM1217.2 538.4h8.6v8.6h-8.6zM1221.7 539.1h8.6v8.6h-8.6zM1226.1 539.8h8.6v8.6h-8.6zM1230.5 540.7h8.6v8.6h-8.6zM1234.9 541.5h8.6v8.6h-8.6zM1239.3 542.4h8.6v8.6h-8.6zM1243.8 543.3h8.6v8.6h-8.6zM1248.2 544.2h8.6v8.6h-8.6zM1252.6 545.1h8.6v8.6h-8.6zM1257.0 546.0h8.6v8.6h-8.6zM1261.4 547.1h8.6v8.6h-8.6zM1265.7 548.1h8.6v8.6h-8.6zM1270.1 549.2h8.6v8.6h-8.6zM1274.5 550.3h8.6v8.6h-8.6zM1278.8 551.3h8.6v8.6h-8.6zM1283.2 552.4h8.6v8.6h-8.6zM1287.6 553.5h8.6v8.6h-8.6zM1292.0 554.5h8.6v8.6h-8.6zM1296.3 555.6h8.6v8.6h-8.6zM1296.7 555.7h8.6v8.6h-8.6z" fill="#0650ad" />
<polyline points="727.7,236.0 735.9,243.5 744.9,253.5 753.9,263.5 765.9,277.4 777.8,287.9 786.8,296.8 794.3,308.8 801.8,322.3 808.5,336.0 816.7,348.2 827.2,363.4 839.2,376.9 849.6,388.9 857.1,400.8 864.6,412.8 873.6,425.5 880.0,436.0 889.0,448.0 899.7,461.4 911.6,474.9 920.0,486.0 932.0,498.5 945.0,508.8 956.5,517.2 967.5,526.8 979.0,532.5 984.6,532.4 999.6,534.6 1014.6,538.3 1029.5,544.6 1045.0,550.7 1059.9,555.5 1074.9,555.5 1089.8,554.0 1112.3,549.6 1127.2,545.8 1149.7,541.3 1164.6,539.1 1179.6,538.8 1195.0,539.1 1211.0,542.5 1231.0,545.0 1252.8,548.3 1279.3,555.0 1300.5,560.3" fill="none" stroke="#ff0505" stroke-width="7.65" stroke-linejoin="round"/><path d="M723.5 231.8h8.5v8.5h-8.5zM726.8 234.8h8.5v8.5h-8.5zM730.1 237.8h8.5v8.5h-8.5zM733.2 241.0h8.5v8.5h-8.5zM736.3 244.4h8.5v8.5h-8.5zM739.3 247.7h8.5v8.5h-8.5zM742.3 251.1h8.5v8.5h-8.5zM745.3 254.4h8.5v8.5h-8.5zM748.3 257.7h8.5v8.5h-8.5zM751.3 261.1h8.5v8.5h-8.5zM754.2 264.5h8.5v8.5h-8.5zM757.2 267.9h8.5v8.5h-8.5zM760.1 271.3h8.5v8.5h-8.5zM763.2 274.6h8.5v8.5h-8.5zM766.6 277.5h8.5v8.5h-8.5zM770.0 280.5h8.5v8.5h-8.5zM773.4 283.5h8.5v8.5h-8.5zM776.6 286.6h8.5v8.5h-8.5zM779.8 289.8h8.5v8.5h-8.5zM782.9 293.0h8.5v8.5h-8.5zM785.2 296.9h8.5v8.5h-8.5zM787.6 300.7h8.5v8.5h-8.5zM790.0 304.5h8.5v8.5h-8.5zM792.2 308.4h8.5v8.5h-8.5zM794.4 312.4h8.5v8.5h-8.5zM796.6 316.3h8.5v8.5h-8.5zM798.6 320.3h8.5v8.5h-8.5zM800.6 324.3h8.5v8.5h-8.5zM802.6 328.4h8.5v8.5h-8.5zM804.7 332.4h8.5v8.5h-8.5zM807.2 336.1h8.5v8.5h-8.5zM809.7 339.8h8.5v8.5h-8.5zM812.2 343.6h8.5v8.5h-8.5zM814.7 347.3h8.5v8.5h-8.5zM817.3 351.0h8.5v8.5h-8.5zM819.9 354.7h8.5v8.5h-8.5zM822.4 358.4h8.5v8.5h-8.5zM825.3 361.8h8.5v8.5h-8.5zM828.3 365.2h8.5v8.5h-8.5zM831.3 368.5h8.5v8.5h-8.5zM834.3 371.9h8.5v8.5h-8.5zM837.2 375.3h8.5v8.5h-8.5zM840.2 378.7h8.5v8.5h-8.5zM843.1 382.1h8.5v8.5h-8.5zM846.0 385.6h8.5v8.5h-8.5zM848.4 389.4h8.5v8.5h-8.5zM850.8 393.2h8.5v8.5h-8.5zM853.1 397.0h8.5v8.5h-8.5zM855.5 400.8h8.5v8.5h-8.5zM857.9 404.7h8.5v8.5h-8.5zM860.3 408.5h8.5v8.5h-8.5zM862.9 412.1h8.5v8.5h-8.5zM865.5 415.8h8.5v8.5h-8.5zM868.1 419.5h8.5v8.5h-8.5zM870.6 423.3h8.5v8.5h-8.5zM872.9 427.1h8.5v8.5h-8.5zM875.3 430.9h8.5v8.5h-8.5zM877.9 434.6h8.5v8.5h-8.5zM880.6 438.2h8.5v8.5h-8.5zM883.3 441.8h8.5v8.5h-8.5zM886.0 445.4h8.5v8.5h-8.5zM888.8 448.9h8.5v8.5h-8.5zM891.6 452.4h8.5v8.5h-8.5zM894.5 455.9h8.5v8.5h-8.5zM897.4 459.3h8.5v8.5h-8.5zM900.3 462.7h8.5v8.5h-8.5zM903.3 466.1h8.5v8.5h-8.5zM906.3 469.5h8.5v8.5h-8.5zM909.1 473.0h8.5v8.5h-8.5zM911.8 476.6h8.5v8.5h-8.5zM914.5 480.1h8.5v8.5h-8.5zM917.5 483.5h8.5v8.5h-8.5zM920.6 486.8h8.5v8.5h-8.5zM923.7 490.0h8.5v8.5h-8.5zM926.8 493.3h8.5v8.5h-8.5zM930.2 496.2h8.5v8.5h-8.5zM933.8 499.0h8.5v8.5h-8.5zM937.3 501.8h8.5v8.5h-8.5zM940.8 504.6h8.5v8.5h-8.5zM944.4 507.2h8.5v8.5h-8.5zM948.1 509.9h8.5v8.5h-8.5zM951.7 512.6h8.5v8.5h-8.5zM955.1 515.5h8.5v8.5h-8.5zM958.5 518.4h8.5v8.5h-8.5zM961.9 521.4h8.5v8.5h-8.5zM965.7 523.8h8.5v8.5h-8.5zM969.7 525.8h8.5v8.5h-8.5zM973.8 527.8h8.5v8.5h-8.5zM978.1 528.2h8.5v8.5h-8.5zM982.6 528.5h8.5v8.5h-8.5zM987.1 529.1h8.5v8.5h-8.5zM991.5 529.8h8.5v8.5h-8.5zM996.0 530.5h8.5v8.5h-8.5zM1000.3 531.6h8.5v8.5h-8.5zM1004.7 532.7h8.5v8.5h-8.5zM1009.1 533.7h8.5v8.5h-8.5zM1013.3 535.3h8.5v8.5h-8.5zM1017.4 537.0h8.5v8.5h-8.5zM1021.6 538.8h8.5v8.5h-8.5zM1025.7 540.5h8.5v8.5h-8.5zM1029.9 542.2h8.5v8.5h-8.5zM1034.1 543.8h8.5v8.5h-8.5zM1038.3 545.5h8.5v8.5h-8.5zM1042.5 547.0h8.5v8.5h-8.5zM1046.8 548.4h8.5v8.5h-8.5zM1051.1 549.8h8.5v8.5h-8.5zM1055.4 551.2h8.5v8.5h-8.5zM1059.8 551.2h8.5v8.5h-8.5zM1064.3 551.2h8.5v8.5h-8.5zM1068.8 551.2h8.5v8.5h-8.5zM1073.3 551.0h8.5v8.5h-8.5zM1077.8 550.5h8.5v8.5h-8.5zM1082.3 550.1h8.5v8.5h-8.5zM1086.7 549.5h8.5v8.5h-8.5zM1091.2 548.7h8.5v8.5h-8.5zM1095.6 547.8h8.5v8.5h-8.5zM1100.0 546.9h8.5v8.5h-8.5zM1104.4 546.1h8.5v8.5h-8.5zM1108.8 545.2h8.5v8.5h-8.5zM1113.2 544.0h8.5v8.5h-8.5zM1117.5 542.9h8.5v8.5h-8.5zM1121.9 541.8h8.5v8.5h-8.5zM1126.3 540.9h8.5v8.5h-8.5zM1130.7 540.0h8.5v8.5h-8.5zM1135.1 539.1h8.5v8.5h-8.5zM1139.5 538.2h8.5v8.5h-8.5zM1144.0 537.3h8.5v8.5h-8.5zM1148.4 536.6h8.5v8.5h-8.5zM1152.8 536.0h8.5v8.5h-8.5zM1157.3 535.3h8.5v8.5h-8.5zM1161.8 534.8h8.5v8.5h-8.5zM1166.3 534.7h8.5v8.5h-8.5zM1170.8 534.6h8.5v8.5h-8.5zM1175.3 534.6h8.5v8.5h-8.5zM1179.8 534.6h8.5v8.5h-8.5zM1184.3 534.7h8.5v8.5h-8.5zM1188.8 534.8h8.5v8.5h-8.5zM1193.2 535.4h8.5v8.5h-8.5zM1197.6 536.3h8.5v8.5h-8.5zM1202.0 537.2h8.5v8.5h-8.5zM1206.4 538.2h8.5v8.5h-8.5zM1210.9 538.8h8.5v8.5h-8.5zM1215.3 539.3h8.5v8.5h-8.5zM1219.8 539.9h8.5v8.5h-8.5zM1224.3 540.4h8.5v8.5h-8.5zM1228.7 541.0h8.5v8.5h-8.5zM1233.2 541.7h8.5v8.5h-8.5zM1237.6 542.4h8.5v8.5h-8.5zM1242.1 543.1h8.5v8.5h-8.5zM1246.5 543.7h8.5v8.5h-8.5zM1250.9 544.6h8.5v8.5h-8.5zM1255.3 545.8h8.5v8.5h-8.5zM1259.6 546.9h8.5v8.5h-8.5zM1264.0 548.0h8.5v8.5h-8.5zM1268.4 549.1h8.5v8.5h-8.5zM1272.7 550.2h8.5v8.5h-8.5zM1277.1 551.3h8.5v8.5h-8.5zM1281.5 552.4h8.5v8.5h-8.5zM1285.8 553.4h8.5v8.5h-8.5zM1290.2 554.5h8.5v8.5h-8.5zM1294.6 555.6h8.5v8.5h-8.5zM1296.2 556.0h8.5v8.5h-8.5z" fill="#ff0505" />
<polyline points="727.7,298.3 737.4,308.8 747.9,322.3 756.4,336.0 765.9,347.5 777.8,361.9 786.8,373.9 797.3,387.4 807.7,400.8 816.7,415.8 827.2,426.3 833.5,435.5 841.0,445.5 847.3,455.4 857.8,467.4 866.8,477.9 877.2,486.8 889.2,494.3 901.0,502.0 916.0,508.5 931.5,513.7 948.0,517.8 964.0,520.1 979.0,519.8 984.6,518.9 993.6,515.2 1011.6,512.9 1029.5,512.9 1059.9,515.9 1089.8,518.1 1119.8,520.4 1149.7,524.1 1164.0,526.5 1186.5,529.1 1211.0,532.5 1232.0,535.2 1242.2,539.7 1248.8,537.7 1263.4,543.0 1279.3,547.7 1292.6,551.7 1297.5,552.7" fill="none" stroke="#0cc045" stroke-width="7.47" stroke-linejoin="round"/><path d="M723.6 294.2h8.3v8.3h-8.3zM726.6 297.5h8.3v8.3h-8.3zM729.7 300.8h8.3v8.3h-8.3zM732.7 304.1h8.3v8.3h-8.3zM735.5 307.6h8.3v8.3h-8.3zM738.3 311.1h8.3v8.3h-8.3zM741.1 314.7h8.3v8.3h-8.3zM743.8 318.2h8.3v8.3h-8.3zM746.2 322.1h8.3v8.3h-8.3zM748.5 325.9h8.3v8.3h-8.3zM750.9 329.7h8.3v8.3h-8.3zM753.5 333.4h8.3v8.3h-8.3zM756.4 336.8h8.3v8.3h-8.3zM759.2 340.3h8.3v8.3h-8.3zM762.1 343.8h8.3v8.3h-8.3zM765.0 347.3h8.3v8.3h-8.3zM767.8 350.7h8.3v8.3h-8.3zM770.7 354.2h8.3v8.3h-8.3zM773.6 357.7h8.3v8.3h-8.3zM776.3 361.3h8.3v8.3h-8.3zM779.0 364.9h8.3v8.3h-8.3zM781.7 368.5h8.3v8.3h-8.3zM784.4 372.0h8.3v8.3h-8.3zM787.2 375.6h8.3v8.3h-8.3zM789.9 379.1h8.3v8.3h-8.3zM792.7 382.7h8.3v8.3h-8.3zM795.5 386.2h8.3v8.3h-8.3zM798.2 389.8h8.3v8.3h-8.3zM801.0 393.3h8.3v8.3h-8.3zM803.7 396.9h8.3v8.3h-8.3zM806.0 400.8h8.3v8.3h-8.3zM808.3 404.6h8.3v8.3h-8.3zM810.7 408.5h8.3v8.3h-8.3zM813.1 412.2h8.3v8.3h-8.3zM816.3 415.4h8.3v8.3h-8.3zM819.5 418.6h8.3v8.3h-8.3zM822.7 421.8h8.3v8.3h-8.3zM825.3 425.4h8.3v8.3h-8.3zM827.8 429.1h8.3v8.3h-8.3zM830.4 432.8h8.3v8.3h-8.3zM833.1 436.4h8.3v8.3h-8.3zM835.8 440.0h8.3v8.3h-8.3zM838.4 443.7h8.3v8.3h-8.3zM840.8 447.5h8.3v8.3h-8.3zM843.2 451.3h8.3v8.3h-8.3zM846.2 454.7h8.3v8.3h-8.3zM849.1 458.1h8.3v8.3h-8.3zM852.1 461.5h8.3v8.3h-8.3zM855.0 464.9h8.3v8.3h-8.3zM858.0 468.3h8.3v8.3h-8.3zM860.9 471.7h8.3v8.3h-8.3zM864.0 474.9h8.3v8.3h-8.3zM867.4 477.9h8.3v8.3h-8.3zM870.9 480.8h8.3v8.3h-8.3zM874.4 483.5h8.3v8.3h-8.3zM878.2 485.9h8.3v8.3h-8.3zM882.1 488.3h8.3v8.3h-8.3zM885.9 490.7h8.3v8.3h-8.3zM889.6 493.1h8.3v8.3h-8.3zM893.4 495.6h8.3v8.3h-8.3zM897.2 498.0h8.3v8.3h-8.3zM901.3 499.8h8.3v8.3h-8.3zM905.5 501.6h8.3v8.3h-8.3zM909.6 503.4h8.3v8.3h-8.3zM913.8 505.0h8.3v8.3h-8.3zM918.0 506.4h8.3v8.3h-8.3zM922.3 507.9h8.3v8.3h-8.3zM926.6 509.3h8.3v8.3h-8.3zM930.9 510.4h8.3v8.3h-8.3zM935.3 511.5h8.3v8.3h-8.3zM939.7 512.6h8.3v8.3h-8.3zM944.0 513.7h8.3v8.3h-8.3zM948.5 514.3h8.3v8.3h-8.3zM952.9 515.0h8.3v8.3h-8.3zM957.4 515.6h8.3v8.3h-8.3zM961.9 515.9h8.3v8.3h-8.3zM966.4 515.8h8.3v8.3h-8.3zM970.9 515.7h8.3v8.3h-8.3zM975.4 515.6h8.3v8.3h-8.3zM979.8 514.9h8.3v8.3h-8.3zM984.0 513.3h8.3v8.3h-8.3zM988.2 511.6h8.3v8.3h-8.3zM992.5 510.7h8.3v8.3h-8.3zM997.0 510.1h8.3v8.3h-8.3zM1001.5 509.5h8.3v8.3h-8.3zM1005.9 508.9h8.3v8.3h-8.3zM1010.4 508.8h8.3v8.3h-8.3zM1014.9 508.8h8.3v8.3h-8.3zM1019.4 508.8h8.3v8.3h-8.3zM1023.9 508.8h8.3v8.3h-8.3zM1028.4 509.1h8.3v8.3h-8.3zM1032.9 509.5h8.3v8.3h-8.3zM1037.4 509.9h8.3v8.3h-8.3zM1041.8 510.4h8.3v8.3h-8.3zM1046.3 510.8h8.3v8.3h-8.3zM1050.8 511.3h8.3v8.3h-8.3zM1055.3 511.7h8.3v8.3h-8.3zM1059.8 512.0h8.3v8.3h-8.3zM1064.3 512.4h8.3v8.3h-8.3zM1068.7 512.7h8.3v8.3h-8.3zM1073.2 513.0h8.3v8.3h-8.3zM1077.7 513.4h8.3v8.3h-8.3zM1082.2 513.7h8.3v8.3h-8.3zM1086.7 514.0h8.3v8.3h-8.3zM1091.2 514.4h8.3v8.3h-8.3zM1095.7 514.7h8.3v8.3h-8.3zM1100.2 515.1h8.3v8.3h-8.3zM1104.6 515.4h8.3v8.3h-8.3zM1109.1 515.7h8.3v8.3h-8.3zM1113.6 516.1h8.3v8.3h-8.3zM1118.1 516.6h8.3v8.3h-8.3zM1122.6 517.1h8.3v8.3h-8.3zM1127.0 517.7h8.3v8.3h-8.3zM1131.5 518.2h8.3v8.3h-8.3zM1136.0 518.8h8.3v8.3h-8.3zM1140.4 519.3h8.3v8.3h-8.3zM1144.9 519.9h8.3v8.3h-8.3zM1149.3 520.6h8.3v8.3h-8.3zM1153.8 521.3h8.3v8.3h-8.3zM1158.2 522.1h8.3v8.3h-8.3zM1162.7 522.7h8.3v8.3h-8.3zM1167.1 523.2h8.3v8.3h-8.3zM1171.6 523.7h8.3v8.3h-8.3zM1176.1 524.2h8.3v8.3h-8.3zM1180.5 524.7h8.3v8.3h-8.3zM1185.0 525.3h8.3v8.3h-8.3zM1189.5 525.9h8.3v8.3h-8.3zM1193.9 526.6h8.3v8.3h-8.3zM1198.4 527.2h8.3v8.3h-8.3zM1202.8 527.8h8.3v8.3h-8.3zM1207.3 528.4h8.3v8.3h-8.3zM1211.8 529.0h8.3v8.3h-8.3zM1216.2 529.6h8.3v8.3h-8.3zM1220.7 530.1h8.3v8.3h-8.3zM1225.1 530.7h8.3v8.3h-8.3zM1229.5 531.8h8.3v8.3h-8.3zM1233.6 533.6h8.3v8.3h-8.3zM1237.7 535.4h8.3v8.3h-8.3zM1242.0 534.4h8.3v8.3h-8.3zM1246.3 534.1h8.3v8.3h-8.3zM1250.5 535.7h8.3v8.3h-8.3zM1254.7 537.2h8.3v8.3h-8.3zM1259.0 538.7h8.3v8.3h-8.3zM1263.3 540.0h8.3v8.3h-8.3zM1267.6 541.3h8.3v8.3h-8.3zM1271.9 542.6h8.3v8.3h-8.3zM1276.2 543.9h8.3v8.3h-8.3zM1280.5 545.2h8.3v8.3h-8.3zM1284.8 546.5h8.3v8.3h-8.3zM1289.2 547.7h8.3v8.3h-8.3zM1293.3 548.6h8.3v8.3h-8.3z" fill="#0cc045" />
<polyline points="735.9,354.8 737.0,358.5 740.4,364.9 750.9,375.4 759.9,388.9 770.3,400.8 780.8,412.8 789.8,426.3 796.0,436.0 802.4,445.0 812.9,458.4 824.9,468.9 836.8,480.9 850.3,491.0 863.5,502.0 876.0,509.0 890.0,515.5 902.0,520.5 915.0,525.0 924.8,527.5 939.8,530.0 955.0,529.5 970.0,527.5 987.6,524.1 1002.6,520.4 1014.6,517.4 1029.5,517.7 1059.9,521.1 1074.9,524.1 1104.8,524.9 1127.2,526.4 1149.7,525.6 1157.2,522.6 1163.0,529.0 1179.6,531.6 1194.6,533.6 1211.0,537.5 1231.5,540.8 1252.8,544.4 1272.7,550.3 1292.6,556.3 1300.5,559.8" fill="none" stroke="#ff8b10" stroke-width="7.47" stroke-linejoin="round"/><path d="M731.8 350.7h8.3v8.3h-8.3zM733.2 354.9h8.3v8.3h-8.3zM735.3 358.9h8.3v8.3h-8.3zM737.9 362.4h8.3v8.3h-8.3zM741.1 365.6h8.3v8.3h-8.3zM744.3 368.8h8.3v8.3h-8.3zM747.3 372.1h8.3v8.3h-8.3zM749.8 375.9h8.3v8.3h-8.3zM752.3 379.6h8.3v8.3h-8.3zM754.8 383.4h8.3v8.3h-8.3zM757.6 386.9h8.3v8.3h-8.3zM760.6 390.3h8.3v8.3h-8.3zM763.5 393.6h8.3v8.3h-8.3zM766.5 397.0h8.3v8.3h-8.3zM769.5 400.4h8.3v8.3h-8.3zM772.4 403.8h8.3v8.3h-8.3zM775.4 407.2h8.3v8.3h-8.3zM778.1 410.8h8.3v8.3h-8.3zM780.6 414.5h8.3v8.3h-8.3zM783.1 418.3h8.3v8.3h-8.3zM785.6 422.0h8.3v8.3h-8.3zM788.0 425.8h8.3v8.3h-8.3zM790.4 429.6h8.3v8.3h-8.3zM792.9 433.3h8.3v8.3h-8.3zM795.5 437.0h8.3v8.3h-8.3zM798.1 440.7h8.3v8.3h-8.3zM800.9 444.2h8.3v8.3h-8.3zM803.7 447.8h8.3v8.3h-8.3zM806.4 451.3h8.3v8.3h-8.3zM809.3 454.8h8.3v8.3h-8.3zM812.7 457.7h8.3v8.3h-8.3zM816.1 460.7h8.3v8.3h-8.3zM819.5 463.6h8.3v8.3h-8.3zM822.7 466.8h8.3v8.3h-8.3zM825.9 469.9h8.3v8.3h-8.3zM829.1 473.1h8.3v8.3h-8.3zM832.2 476.3h8.3v8.3h-8.3zM835.8 479.1h8.3v8.3h-8.3zM839.4 481.8h8.3v8.3h-8.3zM843.0 484.5h8.3v8.3h-8.3zM846.6 487.2h8.3v8.3h-8.3zM850.0 490.1h8.3v8.3h-8.3zM853.5 493.0h8.3v8.3h-8.3zM857.0 495.9h8.3v8.3h-8.3zM860.6 498.5h8.3v8.3h-8.3zM864.5 500.7h8.3v8.3h-8.3zM868.4 502.9h8.3v8.3h-8.3zM872.3 505.1h8.3v8.3h-8.3zM876.4 507.0h8.3v8.3h-8.3zM880.5 508.9h8.3v8.3h-8.3zM884.6 510.8h8.3v8.3h-8.3zM888.7 512.5h8.3v8.3h-8.3zM892.9 514.3h8.3v8.3h-8.3zM897.0 516.0h8.3v8.3h-8.3zM901.3 517.5h8.3v8.3h-8.3zM905.5 519.0h8.3v8.3h-8.3zM909.8 520.5h8.3v8.3h-8.3zM914.1 521.7h8.3v8.3h-8.3zM918.5 522.8h8.3v8.3h-8.3zM922.9 523.7h8.3v8.3h-8.3zM927.3 524.5h8.3v8.3h-8.3zM931.7 525.2h8.3v8.3h-8.3zM936.2 525.8h8.3v8.3h-8.3zM940.7 525.7h8.3v8.3h-8.3zM945.2 525.5h8.3v8.3h-8.3zM949.7 525.4h8.3v8.3h-8.3zM954.2 524.9h8.3v8.3h-8.3zM958.6 524.3h8.3v8.3h-8.3zM963.1 523.7h8.3v8.3h-8.3zM967.5 523.0h8.3v8.3h-8.3zM971.9 522.2h8.3v8.3h-8.3zM976.4 521.3h8.3v8.3h-8.3zM980.8 520.5h8.3v8.3h-8.3zM985.2 519.5h8.3v8.3h-8.3zM989.5 518.4h8.3v8.3h-8.3zM993.9 517.4h8.3v8.3h-8.3zM998.3 516.3h8.3v8.3h-8.3zM1002.6 515.2h8.3v8.3h-8.3zM1007.0 514.1h8.3v8.3h-8.3zM1011.4 513.3h8.3v8.3h-8.3zM1015.9 513.4h8.3v8.3h-8.3zM1020.4 513.5h8.3v8.3h-8.3zM1024.9 513.5h8.3v8.3h-8.3zM1029.4 514.0h8.3v8.3h-8.3zM1033.8 514.5h8.3v8.3h-8.3zM1038.3 515.0h8.3v8.3h-8.3zM1042.8 515.5h8.3v8.3h-8.3zM1047.3 516.0h8.3v8.3h-8.3zM1051.7 516.5h8.3v8.3h-8.3zM1056.2 517.0h8.3v8.3h-8.3zM1060.6 517.9h8.3v8.3h-8.3zM1065.0 518.8h8.3v8.3h-8.3zM1069.4 519.7h8.3v8.3h-8.3zM1073.9 520.0h8.3v8.3h-8.3zM1078.4 520.2h8.3v8.3h-8.3zM1082.9 520.3h8.3v8.3h-8.3zM1087.4 520.4h8.3v8.3h-8.3zM1091.9 520.5h8.3v8.3h-8.3zM1096.4 520.6h8.3v8.3h-8.3zM1100.9 520.8h8.3v8.3h-8.3zM1105.4 521.1h8.3v8.3h-8.3zM1109.9 521.4h8.3v8.3h-8.3zM1114.4 521.7h8.3v8.3h-8.3zM1118.9 522.0h8.3v8.3h-8.3zM1123.4 522.2h8.3v8.3h-8.3zM1127.8 522.1h8.3v8.3h-8.3zM1132.3 521.9h8.3v8.3h-8.3zM1136.8 521.8h8.3v8.3h-8.3zM1141.3 521.6h8.3v8.3h-8.3zM1145.8 521.3h8.3v8.3h-8.3zM1150.0 519.7h8.3v8.3h-8.3zM1153.9 519.3h8.3v8.3h-8.3zM1156.9 522.7h8.3v8.3h-8.3zM1160.4 525.1h8.3v8.3h-8.3zM1164.8 525.8h8.3v8.3h-8.3zM1169.3 526.5h8.3v8.3h-8.3zM1173.7 527.2h8.3v8.3h-8.3zM1178.2 527.8h8.3v8.3h-8.3zM1182.7 528.4h8.3v8.3h-8.3zM1187.1 529.0h8.3v8.3h-8.3zM1191.6 529.7h8.3v8.3h-8.3zM1195.9 530.8h8.3v8.3h-8.3zM1200.3 531.8h8.3v8.3h-8.3zM1204.7 532.8h8.3v8.3h-8.3zM1209.1 533.7h8.3v8.3h-8.3zM1213.5 534.4h8.3v8.3h-8.3zM1218.0 535.1h8.3v8.3h-8.3zM1222.4 535.9h8.3v8.3h-8.3zM1226.9 536.6h8.3v8.3h-8.3zM1231.3 537.3h8.3v8.3h-8.3zM1235.7 538.1h8.3v8.3h-8.3zM1240.2 538.8h8.3v8.3h-8.3zM1244.6 539.6h8.3v8.3h-8.3zM1249.0 540.4h8.3v8.3h-8.3zM1253.4 541.6h8.3v8.3h-8.3zM1257.7 542.9h8.3v8.3h-8.3zM1262.0 544.2h8.3v8.3h-8.3zM1266.3 545.5h8.3v8.3h-8.3zM1270.6 546.8h8.3v8.3h-8.3zM1274.9 548.1h8.3v8.3h-8.3zM1279.2 549.4h8.3v8.3h-8.3zM1283.5 550.7h8.3v8.3h-8.3zM1287.8 552.0h8.3v8.3h-8.3zM1292.0 553.7h8.3v8.3h-8.3zM1296.1 555.5h8.3v8.3h-8.3zM1296.3 555.6h8.3v8.3h-8.3z" fill="#ff8b10" />
<polyline points="792.7,480.9 793.5,489.8 802.4,497.3 814.4,506.3 824.9,512.3 833.9,521.2 844.3,528.7 852.0,535.0 860.0,540.0 868.0,541.3 879.9,548.8 894.9,554.8 906.8,558.5 914.3,557.8 920.3,564.5 933.8,567.5 947.2,572.0 962.2,573.5 977.2,576.5 999.6,576.5 1011.6,573.5 1026.5,572.0 1041.5,569.5 1056.9,568.3 1067.4,563.8 1079.4,563.8 1089.8,556.3 1104.8,555.5 1116.8,554.8 1122.7,550.3 1131.7,559.3 1140.7,550.3 1146.7,556.3 1151.2,563.0 1157.2,559.3 1160.1,547.0 1164.3,554.0 1172.5,548.5 1179.6,548.8 1187.0,545.5 1194.6,546.6 1204.5,549.3 1217.0,552.4 1226.3,551.7 1236.9,555.0 1250.2,553.0 1260.8,559.0 1272.7,557.6 1283.3,563.6 1292.6,562.3 1297.5,562.9" fill="none" stroke="#850088" stroke-width="8.1" stroke-linejoin="round"/><path d="M788.2 476.4h9v9h-9zM788.6 480.9h9v9h-9zM789.0 485.3h9v9h-9zM792.5 488.2h9v9h-9zM795.9 491.1h9v9h-9zM799.4 494.0h9v9h-9zM803.0 496.7h9v9h-9zM806.6 499.4h9v9h-9zM810.3 502.0h9v9h-9zM814.2 504.2h9v9h-9zM818.1 506.5h9v9h-9zM821.7 509.1h9v9h-9zM824.9 512.3h9v9h-9zM828.1 515.4h9v9h-9zM831.6 518.3h9v9h-9zM835.2 520.9h9v9h-9zM838.9 523.5h9v9h-9zM842.4 526.3h9v9h-9zM845.9 529.2h9v9h-9zM849.5 531.8h9v9h-9zM853.4 534.2h9v9h-9zM857.4 535.8h9v9h-9zM861.9 536.5h9v9h-9zM865.9 538.3h9v9h-9zM869.7 540.7h9v9h-9zM873.5 543.1h9v9h-9zM877.5 545.2h9v9h-9zM881.7 546.8h9v9h-9zM885.9 548.5h9v9h-9zM890.1 550.2h9v9h-9zM894.4 551.5h9v9h-9zM898.7 552.9h9v9h-9zM903.0 553.9h9v9h-9zM907.5 553.5h9v9h-9zM911.2 554.9h9v9h-9zM914.2 558.3h9v9h-9zM917.9 560.5h9v9h-9zM922.3 561.4h9v9h-9zM926.7 562.4h9v9h-9zM931.0 563.6h9v9h-9zM935.3 565.0h9v9h-9zM939.6 566.4h9v9h-9zM943.9 567.6h9v9h-9zM948.4 568.1h9v9h-9zM952.8 568.5h9v9h-9zM957.3 569.0h9v9h-9zM961.7 569.8h9v9h-9zM966.1 570.7h9v9h-9zM970.6 571.6h9v9h-9zM975.0 572.0h9v9h-9zM979.5 572.0h9v9h-9zM984.0 572.0h9v9h-9zM988.5 572.0h9v9h-9zM993.0 572.0h9v9h-9zM997.4 571.4h9v9h-9zM1001.8 570.3h9v9h-9zM1006.2 569.2h9v9h-9zM1010.6 568.6h9v9h-9zM1015.1 568.2h9v9h-9zM1019.6 567.7h9v9h-9zM1024.0 567.2h9v9h-9zM1028.5 566.4h9v9h-9zM1032.9 565.7h9v9h-9zM1037.4 565.0h9v9h-9zM1041.9 564.6h9v9h-9zM1046.3 564.3h9v9h-9zM1050.8 563.9h9v9h-9zM1055.1 562.6h9v9h-9zM1059.2 560.9h9v9h-9zM1063.4 559.3h9v9h-9zM1067.9 559.3h9v9h-9zM1072.4 559.3h9v9h-9zM1076.5 558.1h9v9h-9zM1080.2 555.5h9v9h-9zM1083.8 552.9h9v9h-9zM1088.0 551.7h9v9h-9zM1092.5 551.4h9v9h-9zM1097.0 551.2h9v9h-9zM1101.5 550.9h9v9h-9zM1105.9 550.7h9v9h-9zM1110.4 550.4h9v9h-9zM1114.4 548.7h9v9h-9zM1118.0 546.0h9v9h-9zM1121.2 548.8h9v9h-9zM1124.4 552.0h9v9h-9zM1127.5 554.5h9v9h-9zM1130.7 551.3h9v9h-9zM1133.9 548.1h9v9h-9zM1137.1 546.7h9v9h-9zM1140.3 549.9h9v9h-9zM1143.2 553.3h9v9h-9zM1145.7 557.0h9v9h-9zM1149.0 557.1h9v9h-9zM1152.7 554.7h9v9h-9zM1153.8 550.3h9v9h-9zM1154.8 545.9h9v9h-9zM1156.1 543.4h9v9h-9zM1158.4 547.2h9v9h-9zM1161.3 548.5h9v9h-9zM1165.1 546.0h9v9h-9zM1169.0 544.0h9v9h-9zM1173.5 544.2h9v9h-9zM1177.7 543.1h9v9h-9zM1181.8 541.3h9v9h-9zM1186.2 541.5h9v9h-9zM1190.7 542.3h9v9h-9zM1195.0 543.4h9v9h-9zM1199.4 544.6h9v9h-9zM1203.7 545.7h9v9h-9zM1208.1 546.8h9v9h-9zM1212.4 547.9h9v9h-9zM1216.9 547.6h9v9h-9zM1221.4 547.2h9v9h-9zM1225.7 548.4h9v9h-9zM1230.0 549.8h9v9h-9zM1234.4 550.2h9v9h-9zM1238.8 549.5h9v9h-9zM1243.3 548.9h9v9h-9zM1247.5 549.5h9v9h-9zM1251.4 551.7h9v9h-9zM1255.3 554.0h9v9h-9zM1259.7 554.1h9v9h-9zM1264.1 553.6h9v9h-9zM1268.6 553.3h9v9h-9zM1272.5 555.5h9v9h-9zM1276.4 557.7h9v9h-9zM1280.5 558.9h9v9h-9zM1285.0 558.2h9v9h-9zM1289.4 558.0h9v9h-9zM1293.0 558.4h9v9h-9z" fill="#850088" />
<polyline points="1118.0,553.0 1130.0,554.5 1145.0,556.5 1154.0,556.0 1163.0,551.0 1180.0,548.5" fill="none" stroke="#850088" stroke-width="9.9" stroke-linejoin="round"/><path d="M1112.5 547.5h11v11h-11zM1117.0 548.1h11v11h-11zM1121.4 548.6h11v11h-11zM1125.9 549.2h11v11h-11zM1130.4 549.8h11v11h-11zM1134.8 550.4h11v11h-11zM1139.3 551.0h11v11h-11zM1143.8 550.8h11v11h-11zM1148.3 550.5h11v11h-11zM1152.2 548.4h11v11h-11zM1156.2 546.2h11v11h-11zM1160.4 545.1h11v11h-11zM1164.9 544.4h11v11h-11zM1169.3 543.8h11v11h-11zM1173.8 543.1h11v11h-11zM1174.5 543.0h11v11h-11z" fill="#850088" />
</g>
<text class="b" x="916.8" y="49.4" font-size="40" textLength="48.5" lengthAdjust="spacingAndGlyphs">(b)</text><text class="b" x="973" y="49.4" font-size="40" textLength="52" lengthAdjust="spacingAndGlyphs">1.4</text><text class="b" x="1036.5" y="49.4" font-size="40" textLength="75.5" lengthAdjust="spacingAndGlyphs">GPa</text>
<circle cx="1130.4" cy="129.6" r="10.8" fill="#0b2567"/>
<text class="b" x="1163.6" y="143.2" font-size="40" textLength="56.6" lengthAdjust="spacingAndGlyphs">0 T</text>
<circle cx="1130.4" cy="174.5" r="10.8" fill="#fe0a0a"/>
<text class="b" x="1163.6" y="188.1" font-size="40" textLength="87.6" lengthAdjust="spacingAndGlyphs">0.1 T</text>
<circle cx="1130.4" cy="219.4" r="10.8" fill="#0aab52"/>
<text class="b" x="1163.6" y="233.0" font-size="40" textLength="87.6" lengthAdjust="spacingAndGlyphs">0.5 T</text>
<circle cx="1130.4" cy="264.3" r="10.8" fill="#fdc10a"/>
<text class="b" x="1163.4" y="277.9" font-size="40" textLength="56.6" lengthAdjust="spacingAndGlyphs">1 T</text>
<circle cx="1130.4" cy="309.2" r="10.8" fill="#7030a0"/>
<text class="b" x="1163.6" y="322.8" font-size="40" textLength="56.6" lengthAdjust="spacingAndGlyphs">3 T</text>
<g transform="translate(709.9,528.1) rotate(-90)">
<text class="b" x="-1.9" y="0" font-size="40">Δ</text>
<text x="32.9" y="0" font-size="40" font-style="italic" font-weight="bold" textLength="22.5" lengthAdjust="spacingAndGlyphs">C</text>
<text class="b" x="56.5" y="6.5" font-size="25" font-style="italic">p</text>
<text x="69.2" y="0" font-size="40" font-style="italic" font-weight="bold" textLength="20.5" lengthAdjust="spacingAndGlyphs">T</text>
<text class="b" x="93.6" y="-14" font-size="23">1</text>
<text x="113.0" y="0" font-size="40" textLength="15.5" lengthAdjust="spacingAndGlyphs">(</text>
<text class="b" x="132.3" y="0" font-size="40" textLength="82" lengthAdjust="spacingAndGlyphs">arbit</text>
<text class="b" x="218.0" y="0" font-size="40" textLength="12" lengthAdjust="spacingAndGlyphs">.</text>
<text class="b" x="232.0" y="0" font-size="40" textLength="90.5" lengthAdjust="spacingAndGlyphs">units</text>
<text x="323.0" y="0" font-size="40" textLength="15.5" lengthAdjust="spacingAndGlyphs">)</text>
</g>
<text x="725.9" y="694.3" class="b" font-size="38.5" text-anchor="middle" textLength="23.2" lengthAdjust="spacingAndGlyphs">2</text>
<text x="842.9" y="694.3" class="b" font-size="38.5" text-anchor="middle" textLength="23.2" lengthAdjust="spacingAndGlyphs">3</text>
<text x="958.8" y="694.3" class="b" font-size="38.5" text-anchor="middle" textLength="19.5" lengthAdjust="spacingAndGlyphs">4</text>
<text x="1071.7" y="694.3" class="b" font-size="38.5" text-anchor="middle" textLength="23.2" lengthAdjust="spacingAndGlyphs">5</text>
<text x="1186.3" y="694.3" class="b" font-size="38.5" text-anchor="middle" textLength="23.2" lengthAdjust="spacingAndGlyphs">6</text>
<text x="1303.5" y="694.3" class="b" font-size="38.5" text-anchor="middle" textLength="23.2" lengthAdjust="spacingAndGlyphs">7</text>
<text class="bb" x="975.8" y="730.2" font-size="40.5" font-style="italic" textLength="24.6" lengthAdjust="spacingAndGlyphs">T</text><text class="b" x="1005.7" y="730.2" font-size="40">/</text><text class="b" x="1027.7" y="730.2" font-size="40" textLength="30" lengthAdjust="spacingAndGlyphs">K</text>
<path d="M62.3 376.5v4.5M715.6 196.5l1.2 3M720.8 362.5v3.5" stroke="#777" stroke-width="1.2" fill="none"/>
</svg></body></html>
